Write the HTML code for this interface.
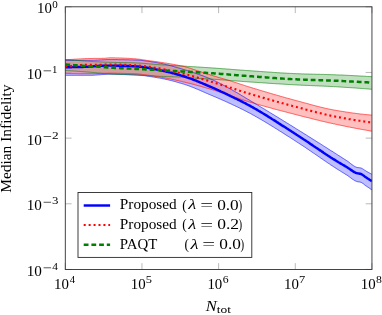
<!DOCTYPE html>
<html><head><meta charset="utf-8"><title>plot</title>
<style>
html,body{margin:0;padding:0;background:#fff;}
body{width:382px;height:315px;position:relative;overflow:hidden;font-family:"Liberation Serif",serif;}
</style></head><body>
<svg width="382" height="315" viewBox="0 0 382 315" style="position:absolute;left:0;top:0;will-change:transform">
<rect width="382" height="315" fill="#fff"/>
<path d="M65.30,269.45 v-6.3 M65.30,6.8 v6.3 M141.96,269.45 v-6.3 M141.96,6.8 v6.3 M218.62,269.45 v-6.3 M218.62,6.8 v6.3 M295.29,269.45 v-6.3 M295.29,6.8 v6.3 M371.95,269.45 v-6.3 M371.95,6.8 v6.3 M65.3,6.80 h6.3 M371.95,6.80 h-6.3 M65.3,72.46 h6.3 M371.95,72.46 h-6.3 M65.3,138.12 h6.3 M371.95,138.12 h-6.3 M65.3,203.79 h6.3 M371.95,203.79 h-6.3 M65.3,269.45 h6.3 M371.95,269.45 h-6.3" stroke="#8c8c8c" stroke-width="0.6" fill="none"/>
<clipPath id="c"><rect x="65.3" y="6.8" width="306.65" height="262.65"/></clipPath>
<g clip-path="url(#c)">
<polygon points="65.3,60.4 66.1,60.4 66.8,60.4 67.6,60.4 68.4,60.4 69.1,60.4 69.9,60.4 70.7,60.4 71.4,60.4 72.2,60.4 73.0,60.4 73.8,60.4 74.5,60.4 75.3,60.4 76.1,60.4 76.8,60.4 77.6,60.4 78.4,60.4 79.1,60.4 79.9,60.4 80.7,60.4 81.4,60.4 82.2,60.4 83.0,60.3 83.7,60.3 84.5,60.3 85.3,60.3 86.1,60.3 86.8,60.3 87.6,60.3 88.4,60.3 89.1,60.3 89.9,60.3 90.7,60.3 91.4,60.3 92.2,60.3 93.0,60.2 93.7,60.2 94.5,60.2 95.3,60.2 96.0,60.1 96.8,60.1 97.6,60.1 98.3,60.0 99.1,60.0 99.9,59.9 100.7,59.9 101.4,59.9 102.2,59.8 103.0,59.8 103.7,59.8 104.5,59.7 105.3,59.7 106.0,59.7 106.8,59.6 107.6,59.6 108.3,59.6 109.1,59.6 109.9,59.6 110.6,59.6 111.4,59.6 112.2,59.6 112.9,59.6 113.7,59.6 114.5,59.6 115.3,59.6 116.0,59.6 116.8,59.6 117.6,59.6 118.3,59.7 119.1,59.7 119.9,59.7 120.6,59.7 121.4,59.7 122.2,59.7 122.9,59.7 123.7,59.7 124.5,59.7 125.2,59.8 126.0,59.8 126.8,59.8 127.6,59.8 128.3,59.8 129.1,59.8 129.9,59.9 130.6,59.9 131.4,59.9 132.2,59.9 132.9,59.9 133.7,60.0 134.5,60.0 135.2,60.0 136.0,60.0 136.8,60.1 137.5,60.1 138.3,60.2 139.1,60.2 139.8,60.3 140.6,60.3 141.4,60.4 142.2,60.5 142.9,60.6 143.7,60.7 144.5,60.8 145.2,60.9 146.0,61.0 146.8,61.1 147.5,61.2 148.3,61.3 149.1,61.4 149.8,61.5 150.6,61.6 151.4,61.8 152.1,61.9 152.9,62.0 153.7,62.1 154.5,62.3 155.2,62.4 156.0,62.5 156.8,62.7 157.5,62.8 158.3,62.9 159.1,63.1 159.8,63.2 160.6,63.3 161.4,63.5 162.1,63.6 162.9,63.8 163.7,64.0 164.4,64.1 165.2,64.3 166.0,64.5 166.7,64.7 167.5,64.9 168.3,65.1 169.1,65.3 169.8,65.5 170.6,65.7 171.4,65.9 172.1,66.1 172.9,66.3 173.7,66.5 174.4,66.8 175.2,67.0 176.0,67.2 176.7,67.4 177.5,67.7 178.3,67.9 179.0,68.1 179.8,68.3 180.6,68.6 181.4,68.8 182.1,69.0 182.9,69.3 183.7,69.5 184.4,69.7 185.2,70.0 186.0,70.2 186.7,70.4 187.5,70.7 188.3,70.9 189.0,71.2 189.8,71.4 190.6,71.6 191.3,71.9 192.1,72.1 192.9,72.4 193.6,72.7 194.4,72.9 195.2,73.2 196.0,73.4 196.7,73.7 197.5,74.0 198.3,74.2 199.0,74.5 199.8,74.8 200.6,75.1 201.3,75.3 202.1,75.6 202.9,75.9 203.6,76.2 204.4,76.5 205.2,76.8 205.9,77.1 206.7,77.4 207.5,77.7 208.2,78.0 209.0,78.3 209.8,78.6 210.6,79.0 211.3,79.3 212.1,79.6 212.9,80.0 213.6,80.3 214.4,80.7 215.2,81.0 215.9,81.4 216.7,81.8 217.5,82.1 218.2,82.5 219.0,82.9 219.8,83.3 220.5,83.7 221.3,84.1 222.1,84.5 222.9,84.9 223.6,85.3 224.4,85.7 225.2,86.2 225.9,86.6 226.7,87.0 227.5,87.4 228.2,87.8 229.0,88.3 229.8,88.7 230.5,89.1 231.3,89.5 232.1,89.9 232.8,90.4 233.6,90.8 234.4,91.2 235.1,91.7 235.9,92.1 236.7,92.6 237.5,93.0 238.2,93.5 239.0,93.9 239.8,94.4 240.5,94.8 241.3,95.3 242.1,95.8 242.8,96.2 243.6,96.7 244.4,97.1 245.1,97.6 245.9,98.1 246.7,98.5 247.4,99.0 248.2,99.4 249.0,99.9 249.8,100.3 250.5,100.8 251.3,101.3 252.1,101.7 252.8,102.2 253.6,102.6 254.4,103.1 255.1,103.6 255.9,104.0 256.7,104.5 257.4,104.9 258.2,105.4 259.0,105.9 259.7,106.3 260.5,106.8 261.3,107.3 262.0,107.7 262.8,108.2 263.6,108.7 264.4,109.1 265.1,109.6 265.9,110.1 266.7,110.5 267.4,111.0 268.2,111.5 269.0,111.9 269.7,112.4 270.5,112.9 271.3,113.3 272.0,113.8 272.8,114.3 273.6,114.7 274.3,115.2 275.1,115.7 275.9,116.2 276.7,116.6 277.4,117.1 278.2,117.6 279.0,118.0 279.7,118.5 280.5,119.0 281.3,119.5 282.0,119.9 282.8,120.4 283.6,120.9 284.3,121.4 285.1,121.8 285.9,122.3 286.6,122.8 287.4,123.3 288.2,123.7 288.9,124.2 289.7,124.7 290.5,125.2 291.3,125.6 292.0,126.1 292.8,126.6 293.6,127.1 294.3,127.5 295.1,128.0 295.9,128.5 296.6,129.0 297.4,129.4 298.2,129.9 298.9,130.4 299.7,130.9 300.5,131.4 301.2,131.8 302.0,132.3 302.8,132.8 303.5,133.3 304.3,133.8 305.1,134.2 305.9,134.7 306.6,135.2 307.4,135.7 308.2,136.2 308.9,136.7 309.7,137.1 310.5,137.6 311.2,138.1 312.0,138.6 312.8,139.1 313.5,139.6 314.3,140.0 315.1,140.5 315.8,141.0 316.6,141.5 317.4,142.0 318.2,142.5 318.9,143.0 319.7,143.4 320.5,143.9 321.2,144.4 322.0,144.9 322.8,145.4 323.5,145.9 324.3,146.4 325.1,146.9 325.8,147.3 326.6,147.8 327.4,148.3 328.1,148.8 328.9,149.3 329.7,149.8 330.4,150.3 331.2,150.8 332.0,151.2 332.8,151.7 333.5,152.2 334.3,152.7 335.1,153.2 335.8,153.7 336.6,154.2 337.4,154.7 338.1,155.2 338.9,155.7 339.7,156.1 340.4,156.6 341.2,157.1 342.0,157.6 342.7,158.1 343.5,158.6 344.3,159.1 345.1,159.6 345.8,160.1 346.6,160.6 347.4,161.1 348.1,161.6 348.9,162.2 349.7,162.8 350.4,163.4 351.2,164.0 352.0,164.6 352.7,165.1 353.5,165.7 354.3,166.2 355.0,166.6 355.8,167.0 356.6,167.3 357.3,167.5 358.1,167.6 358.9,167.7 359.7,167.8 360.4,167.9 361.2,168.1 362.0,168.4 362.7,168.9 363.5,169.4 364.3,169.9 365.0,170.4 365.8,170.9 366.6,171.4 367.3,171.8 368.1,172.2 368.9,172.7 369.6,173.1 370.4,173.5 371.2,173.9 371.9,174.4 371.9,189.9 371.2,189.4 370.4,188.9 369.6,188.3 368.9,187.8 368.1,187.3 367.3,186.8 366.6,186.3 365.8,185.8 365.0,185.2 364.3,184.6 363.5,183.9 362.7,183.4 362.0,182.8 361.2,182.4 360.4,182.2 359.7,182.0 358.9,181.9 358.1,181.8 357.3,181.7 356.6,181.4 355.8,181.1 355.0,180.7 354.3,180.3 353.5,179.8 352.7,179.3 352.0,178.8 351.2,178.2 350.4,177.6 349.7,177.1 348.9,176.5 348.1,175.9 347.4,175.4 346.6,174.9 345.8,174.5 345.1,174.0 344.3,173.5 343.5,173.0 342.7,172.5 342.0,172.1 341.2,171.6 340.4,171.1 339.7,170.6 338.9,170.1 338.1,169.7 337.4,169.2 336.6,168.7 335.8,168.2 335.1,167.7 334.3,167.2 333.5,166.7 332.8,166.2 332.0,165.7 331.2,165.2 330.4,164.7 329.7,164.1 328.9,163.6 328.1,163.1 327.4,162.6 326.6,162.1 325.8,161.5 325.1,161.0 324.3,160.5 323.5,160.0 322.8,159.4 322.0,158.9 321.2,158.4 320.5,157.9 319.7,157.3 318.9,156.8 318.2,156.3 317.4,155.7 316.6,155.2 315.8,154.7 315.1,154.1 314.3,153.6 313.5,153.1 312.8,152.6 312.0,152.0 311.2,151.5 310.5,151.0 309.7,150.5 308.9,149.9 308.2,149.4 307.4,148.9 306.6,148.4 305.9,147.8 305.1,147.3 304.3,146.8 303.5,146.3 302.8,145.8 302.0,145.3 301.2,144.8 300.5,144.3 299.7,143.8 298.9,143.3 298.2,142.8 297.4,142.3 296.6,141.8 295.9,141.3 295.1,140.8 294.3,140.3 293.6,139.8 292.8,139.3 292.0,138.8 291.3,138.3 290.5,137.8 289.7,137.3 288.9,136.8 288.2,136.3 287.4,135.9 286.6,135.4 285.9,134.9 285.1,134.4 284.3,133.9 283.6,133.4 282.8,132.9 282.0,132.4 281.3,131.9 280.5,131.5 279.7,131.0 279.0,130.5 278.2,130.0 277.4,129.5 276.7,129.0 275.9,128.6 275.1,128.1 274.3,127.6 273.6,127.1 272.8,126.6 272.0,126.2 271.3,125.7 270.5,125.2 269.7,124.8 269.0,124.3 268.2,123.8 267.4,123.3 266.7,122.9 265.9,122.4 265.1,122.0 264.4,121.5 263.6,121.0 262.8,120.6 262.0,120.1 261.3,119.7 260.5,119.2 259.7,118.8 259.0,118.3 258.2,117.9 257.4,117.5 256.7,117.0 255.9,116.6 255.1,116.2 254.4,115.7 253.6,115.3 252.8,114.9 252.1,114.5 251.3,114.0 250.5,113.6 249.8,113.2 249.0,112.8 248.2,112.4 247.4,112.0 246.7,111.6 245.9,111.2 245.1,110.8 244.4,110.4 243.6,110.0 242.8,109.6 242.1,109.2 241.3,108.9 240.5,108.5 239.8,108.1 239.0,107.7 238.2,107.4 237.5,107.0 236.7,106.6 235.9,106.3 235.1,105.9 234.4,105.5 233.6,105.2 232.8,104.8 232.1,104.5 231.3,104.1 230.5,103.7 229.8,103.4 229.0,103.0 228.2,102.7 227.5,102.3 226.7,102.0 225.9,101.6 225.2,101.3 224.4,100.9 223.6,100.6 222.9,100.3 222.1,99.9 221.3,99.6 220.5,99.2 219.8,98.9 219.0,98.6 218.2,98.2 217.5,97.9 216.7,97.6 215.9,97.2 215.2,96.9 214.4,96.6 213.6,96.3 212.9,95.9 212.1,95.6 211.3,95.3 210.6,95.0 209.8,94.6 209.0,94.3 208.2,94.0 207.5,93.6 206.7,93.3 205.9,93.0 205.2,92.6 204.4,92.3 203.6,92.0 202.9,91.6 202.1,91.3 201.3,91.0 200.6,90.6 199.8,90.3 199.0,90.0 198.3,89.6 197.5,89.3 196.7,89.0 196.0,88.7 195.2,88.4 194.4,88.0 193.6,87.7 192.9,87.4 192.1,87.1 191.3,86.8 190.6,86.5 189.8,86.2 189.0,85.9 188.3,85.7 187.5,85.4 186.7,85.1 186.0,84.9 185.2,84.6 184.4,84.3 183.7,84.1 182.9,83.9 182.1,83.6 181.4,83.4 180.6,83.2 179.8,83.0 179.0,82.7 178.3,82.5 177.5,82.3 176.7,82.1 176.0,81.9 175.2,81.6 174.4,81.4 173.7,81.2 172.9,81.0 172.1,80.8 171.4,80.6 170.6,80.4 169.8,80.3 169.1,80.1 168.3,79.9 167.5,79.7 166.7,79.5 166.0,79.4 165.2,79.2 164.4,79.0 163.7,78.9 162.9,78.7 162.1,78.6 161.4,78.4 160.6,78.3 159.8,78.1 159.1,78.0 158.3,77.9 157.5,77.8 156.8,77.6 156.0,77.5 155.2,77.4 154.5,77.2 153.7,77.1 152.9,77.0 152.1,76.9 151.4,76.7 150.6,76.6 149.8,76.5 149.1,76.4 148.3,76.3 147.5,76.2 146.8,76.0 146.0,75.9 145.2,75.8 144.5,75.7 143.7,75.6 142.9,75.6 142.2,75.5 141.4,75.4 140.6,75.3 139.8,75.2 139.1,75.2 138.3,75.1 137.5,75.1 136.8,75.0 136.0,75.0 135.2,74.9 134.5,74.9 133.7,74.8 132.9,74.8 132.2,74.8 131.4,74.7 130.6,74.7 129.9,74.7 129.1,74.6 128.3,74.6 127.6,74.6 126.8,74.6 126.0,74.5 125.2,74.5 124.5,74.5 123.7,74.4 122.9,74.4 122.2,74.4 121.4,74.4 120.6,74.4 119.9,74.3 119.1,74.3 118.3,74.3 117.6,74.3 116.8,74.3 116.0,74.3 115.3,74.2 114.5,74.2 113.7,74.2 112.9,74.2 112.2,74.2 111.4,74.2 110.6,74.2 109.9,74.2 109.1,74.2 108.3,74.2 107.6,74.2 106.8,74.3 106.0,74.3 105.3,74.4 104.5,74.4 103.7,74.5 103.0,74.5 102.2,74.6 101.4,74.6 100.7,74.7 99.9,74.8 99.1,74.8 98.3,74.9 97.6,74.9 96.8,75.0 96.0,75.1 95.3,75.1 94.5,75.2 93.7,75.2 93.0,75.2 92.2,75.3 91.4,75.3 90.7,75.3 89.9,75.3 89.1,75.3 88.4,75.3 87.6,75.3 86.8,75.3 86.1,75.3 85.3,75.3 84.5,75.3 83.7,75.3 83.0,75.3 82.2,75.3 81.4,75.3 80.7,75.3 79.9,75.3 79.1,75.3 78.4,75.3 77.6,75.3 76.8,75.3 76.1,75.3 75.3,75.3 74.5,75.3 73.8,75.3 73.0,75.3 72.2,75.3 71.4,75.3 70.7,75.3 69.9,75.3 69.1,75.3 68.4,75.3 67.6,75.3 66.8,75.3 66.1,75.3 65.3,75.3" fill="#8080ff" fill-opacity="0.5" stroke="none"/>

<polygon points="65.3,59.5 66.1,59.6 66.8,59.6 67.6,59.7 68.4,59.7 69.1,59.8 69.9,59.9 70.7,59.9 71.4,60.0 72.2,60.1 73.0,60.1 73.8,60.2 74.5,60.2 75.3,60.3 76.1,60.4 76.8,60.4 77.6,60.5 78.4,60.5 79.1,60.6 79.9,60.6 80.7,60.7 81.4,60.8 82.2,60.8 83.0,60.9 83.7,61.0 84.5,61.0 85.3,61.1 86.1,61.1 86.8,61.2 87.6,61.2 88.4,61.3 89.1,61.3 89.9,61.4 90.7,61.4 91.4,61.5 92.2,61.5 93.0,61.6 93.7,61.6 94.5,61.6 95.3,61.7 96.0,61.7 96.8,61.8 97.6,61.8 98.3,61.8 99.1,61.9 99.9,61.9 100.7,61.9 101.4,62.0 102.2,62.0 103.0,62.0 103.7,62.1 104.5,62.1 105.3,62.1 106.0,62.2 106.8,62.2 107.6,62.2 108.3,62.2 109.1,62.3 109.9,62.3 110.6,62.3 111.4,62.3 112.2,62.4 112.9,62.4 113.7,62.4 114.5,62.4 115.3,62.4 116.0,62.4 116.8,62.5 117.6,62.5 118.3,62.5 119.1,62.5 119.9,62.5 120.6,62.5 121.4,62.5 122.2,62.6 122.9,62.6 123.7,62.6 124.5,62.6 125.2,62.6 126.0,62.6 126.8,62.6 127.6,62.7 128.3,62.7 129.1,62.7 129.9,62.7 130.6,62.7 131.4,62.7 132.2,62.8 132.9,62.8 133.7,62.8 134.5,62.8 135.2,62.9 136.0,62.9 136.8,62.9 137.5,63.0 138.3,63.0 139.1,63.0 139.8,63.1 140.6,63.1 141.4,63.2 142.2,63.3 142.9,63.3 143.7,63.4 144.5,63.4 145.2,63.5 146.0,63.6 146.8,63.6 147.5,63.7 148.3,63.8 149.1,63.8 149.8,63.9 150.6,64.0 151.4,64.0 152.1,64.1 152.9,64.2 153.7,64.2 154.5,64.3 155.2,64.4 156.0,64.4 156.8,64.5 157.5,64.5 158.3,64.6 159.1,64.7 159.8,64.7 160.6,64.8 161.4,64.8 162.1,64.9 162.9,64.9 163.7,65.0 164.4,65.0 165.2,65.0 166.0,65.1 166.7,65.1 167.5,65.2 168.3,65.2 169.1,65.3 169.8,65.3 170.6,65.4 171.4,65.4 172.1,65.5 172.9,65.5 173.7,65.5 174.4,65.6 175.2,65.6 176.0,65.7 176.7,65.7 177.5,65.8 178.3,65.8 179.0,65.9 179.8,65.9 180.6,66.0 181.4,66.0 182.1,66.0 182.9,66.1 183.7,66.1 184.4,66.2 185.2,66.2 186.0,66.3 186.7,66.3 187.5,66.4 188.3,66.4 189.0,66.5 189.8,66.5 190.6,66.6 191.3,66.6 192.1,66.7 192.9,66.7 193.6,66.7 194.4,66.8 195.2,66.8 196.0,66.9 196.7,66.9 197.5,67.0 198.3,67.0 199.0,67.1 199.8,67.1 200.6,67.2 201.3,67.2 202.1,67.3 202.9,67.3 203.6,67.4 204.4,67.4 205.2,67.5 205.9,67.5 206.7,67.6 207.5,67.6 208.2,67.7 209.0,67.7 209.8,67.8 210.6,67.8 211.3,67.9 212.1,67.9 212.9,68.0 213.6,68.0 214.4,68.1 215.2,68.1 215.9,68.2 216.7,68.3 217.5,68.3 218.2,68.4 219.0,68.4 219.8,68.5 220.5,68.5 221.3,68.6 222.1,68.7 222.9,68.7 223.6,68.8 224.4,68.8 225.2,68.9 225.9,68.9 226.7,69.0 227.5,69.1 228.2,69.1 229.0,69.2 229.8,69.2 230.5,69.3 231.3,69.4 232.1,69.4 232.8,69.5 233.6,69.5 234.4,69.6 235.1,69.7 235.9,69.7 236.7,69.8 237.5,69.8 238.2,69.9 239.0,69.9 239.8,70.0 240.5,70.1 241.3,70.1 242.1,70.2 242.8,70.2 243.6,70.3 244.4,70.3 245.1,70.4 245.9,70.5 246.7,70.5 247.4,70.6 248.2,70.6 249.0,70.7 249.8,70.7 250.5,70.8 251.3,70.8 252.1,70.9 252.8,70.9 253.6,71.0 254.4,71.0 255.1,71.1 255.9,71.2 256.7,71.2 257.4,71.3 258.2,71.3 259.0,71.4 259.7,71.4 260.5,71.5 261.3,71.5 262.0,71.6 262.8,71.7 263.6,71.7 264.4,71.8 265.1,71.8 265.9,71.9 266.7,71.9 267.4,72.0 268.2,72.0 269.0,72.1 269.7,72.1 270.5,72.2 271.3,72.2 272.0,72.3 272.8,72.4 273.6,72.4 274.3,72.5 275.1,72.5 275.9,72.6 276.7,72.6 277.4,72.7 278.2,72.7 279.0,72.8 279.7,72.8 280.5,72.9 281.3,72.9 282.0,72.9 282.8,73.0 283.6,73.0 284.3,73.1 285.1,73.1 285.9,73.2 286.6,73.2 287.4,73.3 288.2,73.3 288.9,73.3 289.7,73.4 290.5,73.4 291.3,73.4 292.0,73.5 292.8,73.5 293.6,73.6 294.3,73.6 295.1,73.6 295.9,73.7 296.6,73.7 297.4,73.7 298.2,73.7 298.9,73.8 299.7,73.8 300.5,73.8 301.2,73.9 302.0,73.9 302.8,73.9 303.5,73.9 304.3,74.0 305.1,74.0 305.9,74.0 306.6,74.0 307.4,74.0 308.2,74.1 308.9,74.1 309.7,74.1 310.5,74.1 311.2,74.1 312.0,74.2 312.8,74.2 313.5,74.2 314.3,74.2 315.1,74.2 315.8,74.3 316.6,74.3 317.4,74.3 318.2,74.3 318.9,74.3 319.7,74.3 320.5,74.4 321.2,74.4 322.0,74.4 322.8,74.4 323.5,74.4 324.3,74.5 325.1,74.5 325.8,74.5 326.6,74.5 327.4,74.6 328.1,74.6 328.9,74.6 329.7,74.6 330.4,74.6 331.2,74.7 332.0,74.7 332.8,74.7 333.5,74.7 334.3,74.8 335.1,74.8 335.8,74.8 336.6,74.9 337.4,74.9 338.1,74.9 338.9,75.0 339.7,75.0 340.4,75.0 341.2,75.0 342.0,75.1 342.7,75.1 343.5,75.1 344.3,75.2 345.1,75.2 345.8,75.3 346.6,75.3 347.4,75.3 348.1,75.4 348.9,75.4 349.7,75.4 350.4,75.5 351.2,75.5 352.0,75.6 352.7,75.6 353.5,75.6 354.3,75.7 355.0,75.7 355.8,75.8 356.6,75.8 357.3,75.8 358.1,75.9 358.9,75.9 359.7,76.0 360.4,76.0 361.2,76.1 362.0,76.1 362.7,76.1 363.5,76.2 364.3,76.2 365.0,76.3 365.8,76.3 366.6,76.4 367.3,76.4 368.1,76.5 368.9,76.5 369.6,76.6 370.4,76.6 371.2,76.6 371.9,76.7 371.9,89.3 371.2,89.2 370.4,89.2 369.6,89.1 368.9,89.0 368.1,89.0 367.3,88.9 366.6,88.9 365.8,88.8 365.0,88.7 364.3,88.7 363.5,88.6 362.7,88.6 362.0,88.5 361.2,88.4 360.4,88.4 359.7,88.3 358.9,88.3 358.1,88.2 357.3,88.2 356.6,88.1 355.8,88.0 355.0,88.0 354.3,87.9 353.5,87.9 352.7,87.8 352.0,87.8 351.2,87.7 350.4,87.7 349.7,87.6 348.9,87.6 348.1,87.5 347.4,87.5 346.6,87.4 345.8,87.4 345.1,87.3 344.3,87.3 343.5,87.2 342.7,87.2 342.0,87.1 341.2,87.1 340.4,87.0 339.7,87.0 338.9,86.9 338.1,86.9 337.4,86.8 336.6,86.8 335.8,86.7 335.1,86.7 334.3,86.7 333.5,86.6 332.8,86.6 332.0,86.5 331.2,86.5 330.4,86.5 329.7,86.4 328.9,86.4 328.1,86.3 327.4,86.3 326.6,86.3 325.8,86.2 325.1,86.2 324.3,86.2 323.5,86.1 322.8,86.1 322.0,86.1 321.2,86.0 320.5,86.0 319.7,86.0 318.9,85.9 318.2,85.9 317.4,85.9 316.6,85.8 315.8,85.8 315.1,85.8 314.3,85.7 313.5,85.7 312.8,85.7 312.0,85.6 311.2,85.6 310.5,85.6 309.7,85.5 308.9,85.5 308.2,85.5 307.4,85.4 306.6,85.4 305.9,85.4 305.1,85.3 304.3,85.3 303.5,85.3 302.8,85.2 302.0,85.2 301.2,85.2 300.5,85.1 299.7,85.1 298.9,85.1 298.2,85.0 297.4,85.0 296.6,84.9 295.9,84.9 295.1,84.8 294.3,84.8 293.6,84.8 292.8,84.7 292.0,84.7 291.3,84.6 290.5,84.6 289.7,84.5 288.9,84.5 288.2,84.5 287.4,84.4 286.6,84.4 285.9,84.3 285.1,84.3 284.3,84.2 283.6,84.2 282.8,84.1 282.0,84.1 281.3,84.0 280.5,84.0 279.7,83.9 279.0,83.9 278.2,83.8 277.4,83.8 276.7,83.8 275.9,83.7 275.1,83.7 274.3,83.6 273.6,83.6 272.8,83.5 272.0,83.5 271.3,83.4 270.5,83.4 269.7,83.3 269.0,83.3 268.2,83.2 267.4,83.2 266.7,83.1 265.9,83.0 265.1,83.0 264.4,82.9 263.6,82.9 262.8,82.8 262.0,82.8 261.3,82.7 260.5,82.7 259.7,82.6 259.0,82.6 258.2,82.5 257.4,82.5 256.7,82.4 255.9,82.4 255.1,82.3 254.4,82.3 253.6,82.2 252.8,82.2 252.1,82.1 251.3,82.1 250.5,82.0 249.8,82.0 249.0,81.9 248.2,81.8 247.4,81.8 246.7,81.7 245.9,81.7 245.1,81.6 244.4,81.6 243.6,81.5 242.8,81.5 242.1,81.4 241.3,81.3 240.5,81.3 239.8,81.2 239.0,81.2 238.2,81.1 237.5,81.1 236.7,81.0 235.9,80.9 235.1,80.9 234.4,80.8 233.6,80.8 232.8,80.7 232.1,80.6 231.3,80.6 230.5,80.5 229.8,80.5 229.0,80.4 228.2,80.3 227.5,80.3 226.7,80.2 225.9,80.2 225.2,80.1 224.4,80.0 223.6,80.0 222.9,79.9 222.1,79.9 221.3,79.8 220.5,79.8 219.8,79.7 219.0,79.6 218.2,79.6 217.5,79.5 216.7,79.5 215.9,79.4 215.2,79.4 214.4,79.3 213.6,79.3 212.9,79.2 212.1,79.2 211.3,79.1 210.6,79.1 209.8,79.0 209.0,79.0 208.2,78.9 207.5,78.9 206.7,78.9 205.9,78.8 205.2,78.8 204.4,78.7 203.6,78.7 202.9,78.6 202.1,78.6 201.3,78.6 200.6,78.5 199.8,78.5 199.0,78.4 198.3,78.4 197.5,78.3 196.7,78.3 196.0,78.2 195.2,78.2 194.4,78.1 193.6,78.0 192.9,78.0 192.1,77.9 191.3,77.8 190.6,77.8 189.8,77.7 189.0,77.6 188.3,77.6 187.5,77.5 186.7,77.5 186.0,77.4 185.2,77.3 184.4,77.3 183.7,77.2 182.9,77.2 182.1,77.2 181.4,77.1 180.6,77.1 179.8,77.0 179.0,77.0 178.3,77.0 177.5,76.9 176.7,76.9 176.0,76.9 175.2,76.8 174.4,76.8 173.7,76.8 172.9,76.8 172.1,76.7 171.4,76.7 170.6,76.7 169.8,76.7 169.1,76.6 168.3,76.6 167.5,76.6 166.7,76.6 166.0,76.5 165.2,76.5 164.4,76.5 163.7,76.4 162.9,76.4 162.1,76.4 161.4,76.4 160.6,76.3 159.8,76.3 159.1,76.3 158.3,76.2 157.5,76.2 156.8,76.1 156.0,76.1 155.2,76.1 154.5,76.0 153.7,76.0 152.9,75.9 152.1,75.9 151.4,75.9 150.6,75.8 149.8,75.8 149.1,75.7 148.3,75.7 147.5,75.7 146.8,75.6 146.0,75.6 145.2,75.5 144.5,75.5 143.7,75.4 142.9,75.4 142.2,75.4 141.4,75.3 140.6,75.3 139.8,75.2 139.1,75.2 138.3,75.2 137.5,75.1 136.8,75.1 136.0,75.0 135.2,75.0 134.5,75.0 133.7,74.9 132.9,74.9 132.2,74.9 131.4,74.8 130.6,74.8 129.9,74.8 129.1,74.8 128.3,74.7 127.6,74.7 126.8,74.7 126.0,74.7 125.2,74.6 124.5,74.6 123.7,74.6 122.9,74.5 122.2,74.5 121.4,74.5 120.6,74.5 119.9,74.4 119.1,74.4 118.3,74.4 117.6,74.4 116.8,74.3 116.0,74.3 115.3,74.3 114.5,74.2 113.7,74.2 112.9,74.2 112.2,74.1 111.4,74.1 110.6,74.0 109.9,74.0 109.1,73.9 108.3,73.9 107.6,73.8 106.8,73.8 106.0,73.7 105.3,73.7 104.5,73.6 103.7,73.5 103.0,73.4 102.2,73.4 101.4,73.3 100.7,73.2 99.9,73.1 99.1,73.1 98.3,73.0 97.6,72.9 96.8,72.8 96.0,72.8 95.3,72.7 94.5,72.6 93.7,72.5 93.0,72.5 92.2,72.4 91.4,72.3 90.7,72.3 89.9,72.2 89.1,72.1 88.4,72.1 87.6,72.0 86.8,72.0 86.1,71.9 85.3,71.8 84.5,71.8 83.7,71.7 83.0,71.7 82.2,71.6 81.4,71.6 80.7,71.5 79.9,71.4 79.1,71.4 78.4,71.3 77.6,71.3 76.8,71.2 76.1,71.2 75.3,71.1 74.5,71.1 73.8,71.0 73.0,71.0 72.2,70.9 71.4,70.9 70.7,70.8 69.9,70.8 69.1,70.7 68.4,70.7 67.6,70.6 66.8,70.6 66.1,70.5 65.3,70.5" fill="#80c080" fill-opacity="0.5" stroke="none"/>

<polygon points="65.3,59.9 66.1,59.8 66.8,59.8 67.6,59.7 68.4,59.6 69.1,59.6 69.9,59.5 70.7,59.5 71.4,59.4 72.2,59.4 73.0,59.3 73.8,59.3 74.5,59.2 75.3,59.2 76.1,59.1 76.8,59.1 77.6,59.0 78.4,59.0 79.1,58.9 79.9,58.9 80.7,58.9 81.4,58.8 82.2,58.8 83.0,58.8 83.7,58.7 84.5,58.7 85.3,58.6 86.1,58.6 86.8,58.6 87.6,58.6 88.4,58.5 89.1,58.5 89.9,58.5 90.7,58.5 91.4,58.5 92.2,58.5 93.0,58.5 93.7,58.4 94.5,58.4 95.3,58.4 96.0,58.4 96.8,58.4 97.6,58.4 98.3,58.4 99.1,58.4 99.9,58.4 100.7,58.4 101.4,58.4 102.2,58.3 103.0,58.3 103.7,58.3 104.5,58.3 105.3,58.2 106.0,58.1 106.8,58.1 107.6,58.0 108.3,57.9 109.1,57.8 109.9,57.8 110.6,57.8 111.4,57.8 112.2,57.8 112.9,57.8 113.7,57.8 114.5,57.8 115.3,57.9 116.0,57.9 116.8,57.9 117.6,57.9 118.3,57.9 119.1,58.0 119.9,58.0 120.6,58.0 121.4,58.0 122.2,58.1 122.9,58.1 123.7,58.1 124.5,58.2 125.2,58.2 126.0,58.2 126.8,58.3 127.6,58.3 128.3,58.3 129.1,58.4 129.9,58.4 130.6,58.5 131.4,58.5 132.2,58.6 132.9,58.7 133.7,58.7 134.5,58.8 135.2,58.8 136.0,58.9 136.8,59.0 137.5,59.1 138.3,59.1 139.1,59.2 139.8,59.3 140.6,59.4 141.4,59.6 142.2,59.7 142.9,59.8 143.7,59.9 144.5,60.0 145.2,60.1 146.0,60.3 146.8,60.4 147.5,60.5 148.3,60.6 149.1,60.7 149.8,60.8 150.6,60.9 151.4,61.0 152.1,61.1 152.9,61.2 153.7,61.3 154.5,61.4 155.2,61.5 156.0,61.6 156.8,61.7 157.5,61.8 158.3,61.9 159.1,62.1 159.8,62.2 160.6,62.3 161.4,62.4 162.1,62.5 162.9,62.6 163.7,62.8 164.4,62.9 165.2,63.0 166.0,63.1 166.7,63.2 167.5,63.4 168.3,63.5 169.1,63.6 169.8,63.7 170.6,63.9 171.4,64.0 172.1,64.1 172.9,64.3 173.7,64.4 174.4,64.5 175.2,64.7 176.0,64.8 176.7,65.0 177.5,65.1 178.3,65.3 179.0,65.4 179.8,65.6 180.6,65.7 181.4,65.9 182.1,66.1 182.9,66.2 183.7,66.4 184.4,66.6 185.2,66.8 186.0,67.0 186.7,67.2 187.5,67.5 188.3,67.7 189.0,67.9 189.8,68.2 190.6,68.4 191.3,68.7 192.1,69.0 192.9,69.2 193.6,69.5 194.4,69.7 195.2,70.0 196.0,70.3 196.7,70.5 197.5,70.8 198.3,71.0 199.0,71.2 199.8,71.5 200.6,71.7 201.3,72.0 202.1,72.2 202.9,72.5 203.6,72.7 204.4,73.0 205.2,73.2 205.9,73.5 206.7,73.7 207.5,74.0 208.2,74.2 209.0,74.5 209.8,74.7 210.6,75.0 211.3,75.2 212.1,75.4 212.9,75.7 213.6,75.9 214.4,76.1 215.2,76.4 215.9,76.6 216.7,76.8 217.5,77.1 218.2,77.3 219.0,77.5 219.8,77.7 220.5,78.0 221.3,78.2 222.1,78.4 222.9,78.6 223.6,78.9 224.4,79.1 225.2,79.3 225.9,79.6 226.7,79.8 227.5,80.0 228.2,80.3 229.0,80.5 229.8,80.7 230.5,81.0 231.3,81.2 232.1,81.5 232.8,81.7 233.6,81.9 234.4,82.2 235.1,82.4 235.9,82.7 236.7,82.9 237.5,83.2 238.2,83.4 239.0,83.7 239.8,83.9 240.5,84.2 241.3,84.4 242.1,84.7 242.8,84.9 243.6,85.2 244.4,85.4 245.1,85.7 245.9,85.9 246.7,86.2 247.4,86.4 248.2,86.7 249.0,86.9 249.8,87.1 250.5,87.4 251.3,87.6 252.1,87.8 252.8,88.1 253.6,88.3 254.4,88.5 255.1,88.8 255.9,89.0 256.7,89.2 257.4,89.5 258.2,89.7 259.0,89.9 259.7,90.2 260.5,90.4 261.3,90.6 262.0,90.9 262.8,91.1 263.6,91.3 264.4,91.5 265.1,91.8 265.9,92.0 266.7,92.2 267.4,92.5 268.2,92.7 269.0,92.9 269.7,93.1 270.5,93.4 271.3,93.6 272.0,93.8 272.8,94.0 273.6,94.3 274.3,94.5 275.1,94.7 275.9,94.9 276.7,95.2 277.4,95.4 278.2,95.6 279.0,95.8 279.7,96.0 280.5,96.3 281.3,96.5 282.0,96.7 282.8,96.9 283.6,97.1 284.3,97.3 285.1,97.6 285.9,97.8 286.6,98.0 287.4,98.2 288.2,98.4 288.9,98.6 289.7,98.8 290.5,99.0 291.3,99.3 292.0,99.5 292.8,99.7 293.6,99.9 294.3,100.1 295.1,100.3 295.9,100.5 296.6,100.7 297.4,100.9 298.2,101.1 298.9,101.3 299.7,101.5 300.5,101.7 301.2,101.9 302.0,102.2 302.8,102.4 303.5,102.6 304.3,102.8 305.1,103.0 305.9,103.2 306.6,103.4 307.4,103.6 308.2,103.8 308.9,104.0 309.7,104.3 310.5,104.5 311.2,104.7 312.0,104.9 312.8,105.1 313.5,105.3 314.3,105.5 315.1,105.7 315.8,105.9 316.6,106.1 317.4,106.3 318.2,106.5 318.9,106.7 319.7,106.9 320.5,107.1 321.2,107.3 322.0,107.5 322.8,107.6 323.5,107.8 324.3,108.0 325.1,108.2 325.8,108.4 326.6,108.5 327.4,108.7 328.1,108.9 328.9,109.0 329.7,109.2 330.4,109.3 331.2,109.5 332.0,109.7 332.8,109.8 333.5,109.9 334.3,110.1 335.1,110.2 335.8,110.3 336.6,110.5 337.4,110.6 338.1,110.7 338.9,110.9 339.7,111.0 340.4,111.1 341.2,111.2 342.0,111.4 342.7,111.5 343.5,111.6 344.3,111.7 345.1,111.9 345.8,112.0 346.6,112.1 347.4,112.2 348.1,112.3 348.9,112.4 349.7,112.6 350.4,112.7 351.2,112.8 352.0,112.9 352.7,113.0 353.5,113.1 354.3,113.2 355.0,113.3 355.8,113.4 356.6,113.5 357.3,113.6 358.1,113.7 358.9,113.8 359.7,113.9 360.4,114.0 361.2,114.1 362.0,114.2 362.7,114.2 363.5,114.3 364.3,114.4 365.0,114.5 365.8,114.6 366.6,114.6 367.3,114.7 368.1,114.8 368.9,114.8 369.6,114.9 370.4,115.0 371.2,115.0 371.9,115.1 371.9,131.2 371.2,131.1 370.4,130.9 369.6,130.8 368.9,130.7 368.1,130.5 367.3,130.4 366.6,130.3 365.8,130.1 365.0,130.0 364.3,129.9 363.5,129.7 362.7,129.6 362.0,129.4 361.2,129.3 360.4,129.2 359.7,129.0 358.9,128.9 358.1,128.7 357.3,128.6 356.6,128.5 355.8,128.3 355.0,128.2 354.3,128.0 353.5,127.9 352.7,127.7 352.0,127.6 351.2,127.4 350.4,127.3 349.7,127.1 348.9,127.0 348.1,126.8 347.4,126.7 346.6,126.5 345.8,126.4 345.1,126.2 344.3,126.0 343.5,125.9 342.7,125.7 342.0,125.6 341.2,125.4 340.4,125.2 339.7,125.1 338.9,124.9 338.1,124.8 337.4,124.6 336.6,124.4 335.8,124.3 335.1,124.1 334.3,123.9 333.5,123.8 332.8,123.6 332.0,123.4 331.2,123.3 330.4,123.1 329.7,122.9 328.9,122.8 328.1,122.6 327.4,122.4 326.6,122.2 325.8,122.1 325.1,121.9 324.3,121.7 323.5,121.5 322.8,121.3 322.0,121.2 321.2,121.0 320.5,120.8 319.7,120.6 318.9,120.4 318.2,120.2 317.4,120.0 316.6,119.9 315.8,119.7 315.1,119.5 314.3,119.3 313.5,119.1 312.8,118.9 312.0,118.7 311.2,118.5 310.5,118.3 309.7,118.1 308.9,117.9 308.2,117.7 307.4,117.6 306.6,117.4 305.9,117.2 305.1,117.0 304.3,116.8 303.5,116.6 302.8,116.4 302.0,116.2 301.2,116.0 300.5,115.8 299.7,115.6 298.9,115.4 298.2,115.2 297.4,115.0 296.6,114.8 295.9,114.6 295.1,114.4 294.3,114.2 293.6,114.0 292.8,113.8 292.0,113.6 291.3,113.4 290.5,113.2 289.7,113.0 288.9,112.8 288.2,112.6 287.4,112.4 286.6,112.2 285.9,112.0 285.1,111.8 284.3,111.6 283.6,111.4 282.8,111.2 282.0,111.0 281.3,110.8 280.5,110.6 279.7,110.4 279.0,110.2 278.2,110.0 277.4,109.8 276.7,109.6 275.9,109.4 275.1,109.2 274.3,109.0 273.6,108.8 272.8,108.6 272.0,108.4 271.3,108.1 270.5,107.9 269.7,107.7 269.0,107.5 268.2,107.3 267.4,107.1 266.7,106.9 265.9,106.7 265.1,106.4 264.4,106.2 263.6,106.0 262.8,105.8 262.0,105.6 261.3,105.4 260.5,105.2 259.7,104.9 259.0,104.7 258.2,104.5 257.4,104.3 256.7,104.1 255.9,103.8 255.1,103.6 254.4,103.4 253.6,103.2 252.8,102.9 252.1,102.7 251.3,102.5 250.5,102.3 249.8,102.0 249.0,101.8 248.2,101.6 247.4,101.3 246.7,101.1 245.9,100.9 245.1,100.6 244.4,100.4 243.6,100.1 242.8,99.9 242.1,99.6 241.3,99.4 240.5,99.1 239.8,98.9 239.0,98.6 238.2,98.3 237.5,98.1 236.7,97.8 235.9,97.6 235.1,97.3 234.4,97.0 233.6,96.8 232.8,96.5 232.1,96.2 231.3,96.0 230.5,95.7 229.8,95.4 229.0,95.2 228.2,94.9 227.5,94.6 226.7,94.4 225.9,94.1 225.2,93.9 224.4,93.6 223.6,93.3 222.9,93.1 222.1,92.8 221.3,92.6 220.5,92.3 219.8,92.1 219.0,91.8 218.2,91.5 217.5,91.3 216.7,91.1 215.9,90.8 215.2,90.6 214.4,90.3 213.6,90.1 212.9,89.9 212.1,89.6 211.3,89.4 210.6,89.2 209.8,88.9 209.0,88.7 208.2,88.5 207.5,88.3 206.7,88.1 205.9,87.8 205.2,87.6 204.4,87.4 203.6,87.2 202.9,87.0 202.1,86.7 201.3,86.5 200.6,86.3 199.8,86.1 199.0,85.9 198.3,85.7 197.5,85.5 196.7,85.3 196.0,85.0 195.2,84.8 194.4,84.6 193.6,84.4 192.9,84.2 192.1,84.0 191.3,83.8 190.6,83.6 189.8,83.4 189.0,83.3 188.3,83.1 187.5,82.9 186.7,82.7 186.0,82.5 185.2,82.3 184.4,82.1 183.7,82.0 182.9,81.8 182.1,81.6 181.4,81.4 180.6,81.2 179.8,81.1 179.0,80.9 178.3,80.7 177.5,80.5 176.7,80.4 176.0,80.2 175.2,80.0 174.4,79.9 173.7,79.7 172.9,79.5 172.1,79.4 171.4,79.2 170.6,79.0 169.8,78.9 169.1,78.7 168.3,78.6 167.5,78.4 166.7,78.3 166.0,78.1 165.2,78.0 164.4,77.8 163.7,77.7 162.9,77.6 162.1,77.4 161.4,77.3 160.6,77.2 159.8,77.0 159.1,76.9 158.3,76.8 157.5,76.7 156.8,76.5 156.0,76.4 155.2,76.3 154.5,76.2 153.7,76.0 152.9,75.9 152.1,75.8 151.4,75.7 150.6,75.5 149.8,75.4 149.1,75.3 148.3,75.2 147.5,75.1 146.8,75.0 146.0,74.9 145.2,74.8 144.5,74.6 143.7,74.6 142.9,74.5 142.2,74.4 141.4,74.3 140.6,74.2 139.8,74.1 139.1,74.1 138.3,74.0 137.5,73.9 136.8,73.9 136.0,73.8 135.2,73.8 134.5,73.8 133.7,73.7 132.9,73.7 132.2,73.7 131.4,73.7 130.6,73.6 129.9,73.6 129.1,73.6 128.3,73.5 127.6,73.5 126.8,73.5 126.0,73.5 125.2,73.4 124.5,73.4 123.7,73.4 122.9,73.4 122.2,73.4 121.4,73.3 120.6,73.3 119.9,73.3 119.1,73.3 118.3,73.3 117.6,73.3 116.8,73.3 116.0,73.2 115.3,73.2 114.5,73.2 113.7,73.2 112.9,73.2 112.2,73.2 111.4,73.2 110.6,73.2 109.9,73.2 109.1,73.2 108.3,73.2 107.6,73.2 106.8,73.2 106.0,73.3 105.3,73.3 104.5,73.3 103.7,73.3 103.0,73.3 102.2,73.4 101.4,73.4 100.7,73.4 99.9,73.5 99.1,73.5 98.3,73.5 97.6,73.5 96.8,73.6 96.0,73.6 95.3,73.6 94.5,73.6 93.7,73.7 93.0,73.7 92.2,73.7 91.4,73.7 90.7,73.7 89.9,73.7 89.1,73.7 88.4,73.7 87.6,73.7 86.8,73.7 86.1,73.7 85.3,73.7 84.5,73.7 83.7,73.7 83.0,73.7 82.2,73.7 81.4,73.7 80.7,73.7 79.9,73.7 79.1,73.7 78.4,73.7 77.6,73.7 76.8,73.6 76.1,73.6 75.3,73.6 74.5,73.6 73.8,73.6 73.0,73.6 72.2,73.6 71.4,73.6 70.7,73.5 69.9,73.5 69.1,73.5 68.4,73.5 67.6,73.5 66.8,73.4 66.1,73.4 65.3,73.4" fill="#ff8080" fill-opacity="0.5" stroke="none"/>

<polyline points="65.3,60.4 66.1,60.4 66.8,60.4 67.6,60.4 68.4,60.4 69.1,60.4 69.9,60.4 70.7,60.4 71.4,60.4 72.2,60.4 73.0,60.4 73.8,60.4 74.5,60.4 75.3,60.4 76.1,60.4 76.8,60.4 77.6,60.4 78.4,60.4 79.1,60.4 79.9,60.4 80.7,60.4 81.4,60.4 82.2,60.4 83.0,60.3 83.7,60.3 84.5,60.3 85.3,60.3 86.1,60.3 86.8,60.3 87.6,60.3 88.4,60.3 89.1,60.3 89.9,60.3 90.7,60.3 91.4,60.3 92.2,60.3 93.0,60.2 93.7,60.2 94.5,60.2 95.3,60.2 96.0,60.1 96.8,60.1 97.6,60.1 98.3,60.0 99.1,60.0 99.9,59.9 100.7,59.9 101.4,59.9 102.2,59.8 103.0,59.8 103.7,59.8 104.5,59.7 105.3,59.7 106.0,59.7 106.8,59.6 107.6,59.6 108.3,59.6 109.1,59.6 109.9,59.6 110.6,59.6 111.4,59.6 112.2,59.6 112.9,59.6 113.7,59.6 114.5,59.6 115.3,59.6 116.0,59.6 116.8,59.6 117.6,59.6 118.3,59.7 119.1,59.7 119.9,59.7 120.6,59.7 121.4,59.7 122.2,59.7 122.9,59.7 123.7,59.7 124.5,59.7 125.2,59.8 126.0,59.8 126.8,59.8 127.6,59.8 128.3,59.8 129.1,59.8 129.9,59.9 130.6,59.9 131.4,59.9 132.2,59.9 132.9,59.9 133.7,60.0 134.5,60.0 135.2,60.0 136.0,60.0 136.8,60.1 137.5,60.1 138.3,60.2 139.1,60.2 139.8,60.3 140.6,60.3 141.4,60.4 142.2,60.5 142.9,60.6 143.7,60.7 144.5,60.8 145.2,60.9 146.0,61.0 146.8,61.1 147.5,61.2 148.3,61.3 149.1,61.4 149.8,61.5 150.6,61.6 151.4,61.8 152.1,61.9 152.9,62.0 153.7,62.1 154.5,62.3 155.2,62.4 156.0,62.5 156.8,62.7 157.5,62.8 158.3,62.9 159.1,63.1 159.8,63.2 160.6,63.3 161.4,63.5 162.1,63.6 162.9,63.8 163.7,64.0 164.4,64.1 165.2,64.3 166.0,64.5 166.7,64.7 167.5,64.9 168.3,65.1 169.1,65.3 169.8,65.5 170.6,65.7 171.4,65.9 172.1,66.1 172.9,66.3 173.7,66.5 174.4,66.8 175.2,67.0 176.0,67.2 176.7,67.4 177.5,67.7 178.3,67.9 179.0,68.1 179.8,68.3 180.6,68.6 181.4,68.8 182.1,69.0 182.9,69.3 183.7,69.5 184.4,69.7 185.2,70.0 186.0,70.2 186.7,70.4 187.5,70.7 188.3,70.9 189.0,71.2 189.8,71.4 190.6,71.6 191.3,71.9 192.1,72.1 192.9,72.4 193.6,72.7 194.4,72.9 195.2,73.2 196.0,73.4 196.7,73.7 197.5,74.0 198.3,74.2 199.0,74.5 199.8,74.8 200.6,75.1 201.3,75.3 202.1,75.6 202.9,75.9 203.6,76.2 204.4,76.5 205.2,76.8 205.9,77.1 206.7,77.4 207.5,77.7 208.2,78.0 209.0,78.3 209.8,78.6 210.6,79.0 211.3,79.3 212.1,79.6 212.9,80.0 213.6,80.3 214.4,80.7 215.2,81.0 215.9,81.4 216.7,81.8 217.5,82.1 218.2,82.5 219.0,82.9 219.8,83.3 220.5,83.7 221.3,84.1 222.1,84.5 222.9,84.9 223.6,85.3 224.4,85.7 225.2,86.2 225.9,86.6 226.7,87.0 227.5,87.4 228.2,87.8 229.0,88.3 229.8,88.7 230.5,89.1 231.3,89.5 232.1,89.9 232.8,90.4 233.6,90.8 234.4,91.2 235.1,91.7 235.9,92.1 236.7,92.6 237.5,93.0 238.2,93.5 239.0,93.9 239.8,94.4 240.5,94.8 241.3,95.3 242.1,95.8 242.8,96.2 243.6,96.7 244.4,97.1 245.1,97.6 245.9,98.1 246.7,98.5 247.4,99.0 248.2,99.4 249.0,99.9 249.8,100.3 250.5,100.8 251.3,101.3 252.1,101.7 252.8,102.2 253.6,102.6 254.4,103.1 255.1,103.6 255.9,104.0 256.7,104.5 257.4,104.9 258.2,105.4 259.0,105.9 259.7,106.3 260.5,106.8 261.3,107.3 262.0,107.7 262.8,108.2 263.6,108.7 264.4,109.1 265.1,109.6 265.9,110.1 266.7,110.5 267.4,111.0 268.2,111.5 269.0,111.9 269.7,112.4 270.5,112.9 271.3,113.3 272.0,113.8 272.8,114.3 273.6,114.7 274.3,115.2 275.1,115.7 275.9,116.2 276.7,116.6 277.4,117.1 278.2,117.6 279.0,118.0 279.7,118.5 280.5,119.0 281.3,119.5 282.0,119.9 282.8,120.4 283.6,120.9 284.3,121.4 285.1,121.8 285.9,122.3 286.6,122.8 287.4,123.3 288.2,123.7 288.9,124.2 289.7,124.7 290.5,125.2 291.3,125.6 292.0,126.1 292.8,126.6 293.6,127.1 294.3,127.5 295.1,128.0 295.9,128.5 296.6,129.0 297.4,129.4 298.2,129.9 298.9,130.4 299.7,130.9 300.5,131.4 301.2,131.8 302.0,132.3 302.8,132.8 303.5,133.3 304.3,133.8 305.1,134.2 305.9,134.7 306.6,135.2 307.4,135.7 308.2,136.2 308.9,136.7 309.7,137.1 310.5,137.6 311.2,138.1 312.0,138.6 312.8,139.1 313.5,139.6 314.3,140.0 315.1,140.5 315.8,141.0 316.6,141.5 317.4,142.0 318.2,142.5 318.9,143.0 319.7,143.4 320.5,143.9 321.2,144.4 322.0,144.9 322.8,145.4 323.5,145.9 324.3,146.4 325.1,146.9 325.8,147.3 326.6,147.8 327.4,148.3 328.1,148.8 328.9,149.3 329.7,149.8 330.4,150.3 331.2,150.8 332.0,151.2 332.8,151.7 333.5,152.2 334.3,152.7 335.1,153.2 335.8,153.7 336.6,154.2 337.4,154.7 338.1,155.2 338.9,155.7 339.7,156.1 340.4,156.6 341.2,157.1 342.0,157.6 342.7,158.1 343.5,158.6 344.3,159.1 345.1,159.6 345.8,160.1 346.6,160.6 347.4,161.1 348.1,161.6 348.9,162.2 349.7,162.8 350.4,163.4 351.2,164.0 352.0,164.6 352.7,165.1 353.5,165.7 354.3,166.2 355.0,166.6 355.8,167.0 356.6,167.3 357.3,167.5 358.1,167.6 358.9,167.7 359.7,167.8 360.4,167.9 361.2,168.1 362.0,168.4 362.7,168.9 363.5,169.4 364.3,169.9 365.0,170.4 365.8,170.9 366.6,171.4 367.3,171.8 368.1,172.2 368.9,172.7 369.6,173.1 370.4,173.5 371.2,173.9 371.9,174.4" fill="none" stroke="#0000ff" stroke-width="0.6"/>
<polyline points="65.3,75.3 66.1,75.3 66.8,75.3 67.6,75.3 68.4,75.3 69.1,75.3 69.9,75.3 70.7,75.3 71.4,75.3 72.2,75.3 73.0,75.3 73.8,75.3 74.5,75.3 75.3,75.3 76.1,75.3 76.8,75.3 77.6,75.3 78.4,75.3 79.1,75.3 79.9,75.3 80.7,75.3 81.4,75.3 82.2,75.3 83.0,75.3 83.7,75.3 84.5,75.3 85.3,75.3 86.1,75.3 86.8,75.3 87.6,75.3 88.4,75.3 89.1,75.3 89.9,75.3 90.7,75.3 91.4,75.3 92.2,75.3 93.0,75.2 93.7,75.2 94.5,75.2 95.3,75.1 96.0,75.1 96.8,75.0 97.6,74.9 98.3,74.9 99.1,74.8 99.9,74.8 100.7,74.7 101.4,74.6 102.2,74.6 103.0,74.5 103.7,74.5 104.5,74.4 105.3,74.4 106.0,74.3 106.8,74.3 107.6,74.2 108.3,74.2 109.1,74.2 109.9,74.2 110.6,74.2 111.4,74.2 112.2,74.2 112.9,74.2 113.7,74.2 114.5,74.2 115.3,74.2 116.0,74.3 116.8,74.3 117.6,74.3 118.3,74.3 119.1,74.3 119.9,74.3 120.6,74.4 121.4,74.4 122.2,74.4 122.9,74.4 123.7,74.4 124.5,74.5 125.2,74.5 126.0,74.5 126.8,74.6 127.6,74.6 128.3,74.6 129.1,74.6 129.9,74.7 130.6,74.7 131.4,74.7 132.2,74.8 132.9,74.8 133.7,74.8 134.5,74.9 135.2,74.9 136.0,75.0 136.8,75.0 137.5,75.1 138.3,75.1 139.1,75.2 139.8,75.2 140.6,75.3 141.4,75.4 142.2,75.5 142.9,75.6 143.7,75.6 144.5,75.7 145.2,75.8 146.0,75.9 146.8,76.0 147.5,76.2 148.3,76.3 149.1,76.4 149.8,76.5 150.6,76.6 151.4,76.7 152.1,76.9 152.9,77.0 153.7,77.1 154.5,77.2 155.2,77.4 156.0,77.5 156.8,77.6 157.5,77.8 158.3,77.9 159.1,78.0 159.8,78.1 160.6,78.3 161.4,78.4 162.1,78.6 162.9,78.7 163.7,78.9 164.4,79.0 165.2,79.2 166.0,79.4 166.7,79.5 167.5,79.7 168.3,79.9 169.1,80.1 169.8,80.3 170.6,80.4 171.4,80.6 172.1,80.8 172.9,81.0 173.7,81.2 174.4,81.4 175.2,81.6 176.0,81.9 176.7,82.1 177.5,82.3 178.3,82.5 179.0,82.7 179.8,83.0 180.6,83.2 181.4,83.4 182.1,83.6 182.9,83.9 183.7,84.1 184.4,84.3 185.2,84.6 186.0,84.9 186.7,85.1 187.5,85.4 188.3,85.7 189.0,85.9 189.8,86.2 190.6,86.5 191.3,86.8 192.1,87.1 192.9,87.4 193.6,87.7 194.4,88.0 195.2,88.4 196.0,88.7 196.7,89.0 197.5,89.3 198.3,89.6 199.0,90.0 199.8,90.3 200.6,90.6 201.3,91.0 202.1,91.3 202.9,91.6 203.6,92.0 204.4,92.3 205.2,92.6 205.9,93.0 206.7,93.3 207.5,93.6 208.2,94.0 209.0,94.3 209.8,94.6 210.6,95.0 211.3,95.3 212.1,95.6 212.9,95.9 213.6,96.3 214.4,96.6 215.2,96.9 215.9,97.2 216.7,97.6 217.5,97.9 218.2,98.2 219.0,98.6 219.8,98.9 220.5,99.2 221.3,99.6 222.1,99.9 222.9,100.3 223.6,100.6 224.4,100.9 225.2,101.3 225.9,101.6 226.7,102.0 227.5,102.3 228.2,102.7 229.0,103.0 229.8,103.4 230.5,103.7 231.3,104.1 232.1,104.5 232.8,104.8 233.6,105.2 234.4,105.5 235.1,105.9 235.9,106.3 236.7,106.6 237.5,107.0 238.2,107.4 239.0,107.7 239.8,108.1 240.5,108.5 241.3,108.9 242.1,109.2 242.8,109.6 243.6,110.0 244.4,110.4 245.1,110.8 245.9,111.2 246.7,111.6 247.4,112.0 248.2,112.4 249.0,112.8 249.8,113.2 250.5,113.6 251.3,114.0 252.1,114.5 252.8,114.9 253.6,115.3 254.4,115.7 255.1,116.2 255.9,116.6 256.7,117.0 257.4,117.5 258.2,117.9 259.0,118.3 259.7,118.8 260.5,119.2 261.3,119.7 262.0,120.1 262.8,120.6 263.6,121.0 264.4,121.5 265.1,122.0 265.9,122.4 266.7,122.9 267.4,123.3 268.2,123.8 269.0,124.3 269.7,124.8 270.5,125.2 271.3,125.7 272.0,126.2 272.8,126.6 273.6,127.1 274.3,127.6 275.1,128.1 275.9,128.6 276.7,129.0 277.4,129.5 278.2,130.0 279.0,130.5 279.7,131.0 280.5,131.5 281.3,131.9 282.0,132.4 282.8,132.9 283.6,133.4 284.3,133.9 285.1,134.4 285.9,134.9 286.6,135.4 287.4,135.9 288.2,136.3 288.9,136.8 289.7,137.3 290.5,137.8 291.3,138.3 292.0,138.8 292.8,139.3 293.6,139.8 294.3,140.3 295.1,140.8 295.9,141.3 296.6,141.8 297.4,142.3 298.2,142.8 298.9,143.3 299.7,143.8 300.5,144.3 301.2,144.8 302.0,145.3 302.8,145.8 303.5,146.3 304.3,146.8 305.1,147.3 305.9,147.8 306.6,148.4 307.4,148.9 308.2,149.4 308.9,149.9 309.7,150.5 310.5,151.0 311.2,151.5 312.0,152.0 312.8,152.6 313.5,153.1 314.3,153.6 315.1,154.1 315.8,154.7 316.6,155.2 317.4,155.7 318.2,156.3 318.9,156.8 319.7,157.3 320.5,157.9 321.2,158.4 322.0,158.9 322.8,159.4 323.5,160.0 324.3,160.5 325.1,161.0 325.8,161.5 326.6,162.1 327.4,162.6 328.1,163.1 328.9,163.6 329.7,164.1 330.4,164.7 331.2,165.2 332.0,165.7 332.8,166.2 333.5,166.7 334.3,167.2 335.1,167.7 335.8,168.2 336.6,168.7 337.4,169.2 338.1,169.7 338.9,170.1 339.7,170.6 340.4,171.1 341.2,171.6 342.0,172.1 342.7,172.5 343.5,173.0 344.3,173.5 345.1,174.0 345.8,174.5 346.6,174.9 347.4,175.4 348.1,175.9 348.9,176.5 349.7,177.1 350.4,177.6 351.2,178.2 352.0,178.8 352.7,179.3 353.5,179.8 354.3,180.3 355.0,180.7 355.8,181.1 356.6,181.4 357.3,181.7 358.1,181.8 358.9,181.9 359.7,182.0 360.4,182.2 361.2,182.4 362.0,182.8 362.7,183.4 363.5,183.9 364.3,184.6 365.0,185.2 365.8,185.8 366.6,186.3 367.3,186.8 368.1,187.3 368.9,187.8 369.6,188.3 370.4,188.9 371.2,189.4 371.9,189.9" fill="none" stroke="#0000ff" stroke-width="0.6"/>

<polyline points="65.3,59.5 66.1,59.6 66.8,59.6 67.6,59.7 68.4,59.7 69.1,59.8 69.9,59.9 70.7,59.9 71.4,60.0 72.2,60.1 73.0,60.1 73.8,60.2 74.5,60.2 75.3,60.3 76.1,60.4 76.8,60.4 77.6,60.5 78.4,60.5 79.1,60.6 79.9,60.6 80.7,60.7 81.4,60.8 82.2,60.8 83.0,60.9 83.7,61.0 84.5,61.0 85.3,61.1 86.1,61.1 86.8,61.2 87.6,61.2 88.4,61.3 89.1,61.3 89.9,61.4 90.7,61.4 91.4,61.5 92.2,61.5 93.0,61.6 93.7,61.6 94.5,61.6 95.3,61.7 96.0,61.7 96.8,61.8 97.6,61.8 98.3,61.8 99.1,61.9 99.9,61.9 100.7,61.9 101.4,62.0 102.2,62.0 103.0,62.0 103.7,62.1 104.5,62.1 105.3,62.1 106.0,62.2 106.8,62.2 107.6,62.2 108.3,62.2 109.1,62.3 109.9,62.3 110.6,62.3 111.4,62.3 112.2,62.4 112.9,62.4 113.7,62.4 114.5,62.4 115.3,62.4 116.0,62.4 116.8,62.5 117.6,62.5 118.3,62.5 119.1,62.5 119.9,62.5 120.6,62.5 121.4,62.5 122.2,62.6 122.9,62.6 123.7,62.6 124.5,62.6 125.2,62.6 126.0,62.6 126.8,62.6 127.6,62.7 128.3,62.7 129.1,62.7 129.9,62.7 130.6,62.7 131.4,62.7 132.2,62.8 132.9,62.8 133.7,62.8 134.5,62.8 135.2,62.9 136.0,62.9 136.8,62.9 137.5,63.0 138.3,63.0 139.1,63.0 139.8,63.1 140.6,63.1 141.4,63.2 142.2,63.3 142.9,63.3 143.7,63.4 144.5,63.4 145.2,63.5 146.0,63.6 146.8,63.6 147.5,63.7 148.3,63.8 149.1,63.8 149.8,63.9 150.6,64.0 151.4,64.0 152.1,64.1 152.9,64.2 153.7,64.2 154.5,64.3 155.2,64.4 156.0,64.4 156.8,64.5 157.5,64.5 158.3,64.6 159.1,64.7 159.8,64.7 160.6,64.8 161.4,64.8 162.1,64.9 162.9,64.9 163.7,65.0 164.4,65.0 165.2,65.0 166.0,65.1 166.7,65.1 167.5,65.2 168.3,65.2 169.1,65.3 169.8,65.3 170.6,65.4 171.4,65.4 172.1,65.5 172.9,65.5 173.7,65.5 174.4,65.6 175.2,65.6 176.0,65.7 176.7,65.7 177.5,65.8 178.3,65.8 179.0,65.9 179.8,65.9 180.6,66.0 181.4,66.0 182.1,66.0 182.9,66.1 183.7,66.1 184.4,66.2 185.2,66.2 186.0,66.3 186.7,66.3 187.5,66.4 188.3,66.4 189.0,66.5 189.8,66.5 190.6,66.6 191.3,66.6 192.1,66.7 192.9,66.7 193.6,66.7 194.4,66.8 195.2,66.8 196.0,66.9 196.7,66.9 197.5,67.0 198.3,67.0 199.0,67.1 199.8,67.1 200.6,67.2 201.3,67.2 202.1,67.3 202.9,67.3 203.6,67.4 204.4,67.4 205.2,67.5 205.9,67.5 206.7,67.6 207.5,67.6 208.2,67.7 209.0,67.7 209.8,67.8 210.6,67.8 211.3,67.9 212.1,67.9 212.9,68.0 213.6,68.0 214.4,68.1 215.2,68.1 215.9,68.2 216.7,68.3 217.5,68.3 218.2,68.4 219.0,68.4 219.8,68.5 220.5,68.5 221.3,68.6 222.1,68.7 222.9,68.7 223.6,68.8 224.4,68.8 225.2,68.9 225.9,68.9 226.7,69.0 227.5,69.1 228.2,69.1 229.0,69.2 229.8,69.2 230.5,69.3 231.3,69.4 232.1,69.4 232.8,69.5 233.6,69.5 234.4,69.6 235.1,69.7 235.9,69.7 236.7,69.8 237.5,69.8 238.2,69.9 239.0,69.9 239.8,70.0 240.5,70.1 241.3,70.1 242.1,70.2 242.8,70.2 243.6,70.3 244.4,70.3 245.1,70.4 245.9,70.5 246.7,70.5 247.4,70.6 248.2,70.6 249.0,70.7 249.8,70.7 250.5,70.8 251.3,70.8 252.1,70.9 252.8,70.9 253.6,71.0 254.4,71.0 255.1,71.1 255.9,71.2 256.7,71.2 257.4,71.3 258.2,71.3 259.0,71.4 259.7,71.4 260.5,71.5 261.3,71.5 262.0,71.6 262.8,71.7 263.6,71.7 264.4,71.8 265.1,71.8 265.9,71.9 266.7,71.9 267.4,72.0 268.2,72.0 269.0,72.1 269.7,72.1 270.5,72.2 271.3,72.2 272.0,72.3 272.8,72.4 273.6,72.4 274.3,72.5 275.1,72.5 275.9,72.6 276.7,72.6 277.4,72.7 278.2,72.7 279.0,72.8 279.7,72.8 280.5,72.9 281.3,72.9 282.0,72.9 282.8,73.0 283.6,73.0 284.3,73.1 285.1,73.1 285.9,73.2 286.6,73.2 287.4,73.3 288.2,73.3 288.9,73.3 289.7,73.4 290.5,73.4 291.3,73.4 292.0,73.5 292.8,73.5 293.6,73.6 294.3,73.6 295.1,73.6 295.9,73.7 296.6,73.7 297.4,73.7 298.2,73.7 298.9,73.8 299.7,73.8 300.5,73.8 301.2,73.9 302.0,73.9 302.8,73.9 303.5,73.9 304.3,74.0 305.1,74.0 305.9,74.0 306.6,74.0 307.4,74.0 308.2,74.1 308.9,74.1 309.7,74.1 310.5,74.1 311.2,74.1 312.0,74.2 312.8,74.2 313.5,74.2 314.3,74.2 315.1,74.2 315.8,74.3 316.6,74.3 317.4,74.3 318.2,74.3 318.9,74.3 319.7,74.3 320.5,74.4 321.2,74.4 322.0,74.4 322.8,74.4 323.5,74.4 324.3,74.5 325.1,74.5 325.8,74.5 326.6,74.5 327.4,74.6 328.1,74.6 328.9,74.6 329.7,74.6 330.4,74.6 331.2,74.7 332.0,74.7 332.8,74.7 333.5,74.7 334.3,74.8 335.1,74.8 335.8,74.8 336.6,74.9 337.4,74.9 338.1,74.9 338.9,75.0 339.7,75.0 340.4,75.0 341.2,75.0 342.0,75.1 342.7,75.1 343.5,75.1 344.3,75.2 345.1,75.2 345.8,75.3 346.6,75.3 347.4,75.3 348.1,75.4 348.9,75.4 349.7,75.4 350.4,75.5 351.2,75.5 352.0,75.6 352.7,75.6 353.5,75.6 354.3,75.7 355.0,75.7 355.8,75.8 356.6,75.8 357.3,75.8 358.1,75.9 358.9,75.9 359.7,76.0 360.4,76.0 361.2,76.1 362.0,76.1 362.7,76.1 363.5,76.2 364.3,76.2 365.0,76.3 365.8,76.3 366.6,76.4 367.3,76.4 368.1,76.5 368.9,76.5 369.6,76.6 370.4,76.6 371.2,76.6 371.9,76.7" fill="none" stroke="#008000" stroke-width="0.6"/>
<polyline points="65.3,70.5 66.1,70.5 66.8,70.6 67.6,70.6 68.4,70.7 69.1,70.7 69.9,70.8 70.7,70.8 71.4,70.9 72.2,70.9 73.0,71.0 73.8,71.0 74.5,71.1 75.3,71.1 76.1,71.2 76.8,71.2 77.6,71.3 78.4,71.3 79.1,71.4 79.9,71.4 80.7,71.5 81.4,71.6 82.2,71.6 83.0,71.7 83.7,71.7 84.5,71.8 85.3,71.8 86.1,71.9 86.8,72.0 87.6,72.0 88.4,72.1 89.1,72.1 89.9,72.2 90.7,72.3 91.4,72.3 92.2,72.4 93.0,72.5 93.7,72.5 94.5,72.6 95.3,72.7 96.0,72.8 96.8,72.8 97.6,72.9 98.3,73.0 99.1,73.1 99.9,73.1 100.7,73.2 101.4,73.3 102.2,73.4 103.0,73.4 103.7,73.5 104.5,73.6 105.3,73.7 106.0,73.7 106.8,73.8 107.6,73.8 108.3,73.9 109.1,73.9 109.9,74.0 110.6,74.0 111.4,74.1 112.2,74.1 112.9,74.2 113.7,74.2 114.5,74.2 115.3,74.3 116.0,74.3 116.8,74.3 117.6,74.4 118.3,74.4 119.1,74.4 119.9,74.4 120.6,74.5 121.4,74.5 122.2,74.5 122.9,74.5 123.7,74.6 124.5,74.6 125.2,74.6 126.0,74.7 126.8,74.7 127.6,74.7 128.3,74.7 129.1,74.8 129.9,74.8 130.6,74.8 131.4,74.8 132.2,74.9 132.9,74.9 133.7,74.9 134.5,75.0 135.2,75.0 136.0,75.0 136.8,75.1 137.5,75.1 138.3,75.2 139.1,75.2 139.8,75.2 140.6,75.3 141.4,75.3 142.2,75.4 142.9,75.4 143.7,75.4 144.5,75.5 145.2,75.5 146.0,75.6 146.8,75.6 147.5,75.7 148.3,75.7 149.1,75.7 149.8,75.8 150.6,75.8 151.4,75.9 152.1,75.9 152.9,75.9 153.7,76.0 154.5,76.0 155.2,76.1 156.0,76.1 156.8,76.1 157.5,76.2 158.3,76.2 159.1,76.3 159.8,76.3 160.6,76.3 161.4,76.4 162.1,76.4 162.9,76.4 163.7,76.4 164.4,76.5 165.2,76.5 166.0,76.5 166.7,76.6 167.5,76.6 168.3,76.6 169.1,76.6 169.8,76.7 170.6,76.7 171.4,76.7 172.1,76.7 172.9,76.8 173.7,76.8 174.4,76.8 175.2,76.8 176.0,76.9 176.7,76.9 177.5,76.9 178.3,77.0 179.0,77.0 179.8,77.0 180.6,77.1 181.4,77.1 182.1,77.2 182.9,77.2 183.7,77.2 184.4,77.3 185.2,77.3 186.0,77.4 186.7,77.5 187.5,77.5 188.3,77.6 189.0,77.6 189.8,77.7 190.6,77.8 191.3,77.8 192.1,77.9 192.9,78.0 193.6,78.0 194.4,78.1 195.2,78.2 196.0,78.2 196.7,78.3 197.5,78.3 198.3,78.4 199.0,78.4 199.8,78.5 200.6,78.5 201.3,78.6 202.1,78.6 202.9,78.6 203.6,78.7 204.4,78.7 205.2,78.8 205.9,78.8 206.7,78.9 207.5,78.9 208.2,78.9 209.0,79.0 209.8,79.0 210.6,79.1 211.3,79.1 212.1,79.2 212.9,79.2 213.6,79.3 214.4,79.3 215.2,79.4 215.9,79.4 216.7,79.5 217.5,79.5 218.2,79.6 219.0,79.6 219.8,79.7 220.5,79.8 221.3,79.8 222.1,79.9 222.9,79.9 223.6,80.0 224.4,80.0 225.2,80.1 225.9,80.2 226.7,80.2 227.5,80.3 228.2,80.3 229.0,80.4 229.8,80.5 230.5,80.5 231.3,80.6 232.1,80.6 232.8,80.7 233.6,80.8 234.4,80.8 235.1,80.9 235.9,80.9 236.7,81.0 237.5,81.1 238.2,81.1 239.0,81.2 239.8,81.2 240.5,81.3 241.3,81.3 242.1,81.4 242.8,81.5 243.6,81.5 244.4,81.6 245.1,81.6 245.9,81.7 246.7,81.7 247.4,81.8 248.2,81.8 249.0,81.9 249.8,82.0 250.5,82.0 251.3,82.1 252.1,82.1 252.8,82.2 253.6,82.2 254.4,82.3 255.1,82.3 255.9,82.4 256.7,82.4 257.4,82.5 258.2,82.5 259.0,82.6 259.7,82.6 260.5,82.7 261.3,82.7 262.0,82.8 262.8,82.8 263.6,82.9 264.4,82.9 265.1,83.0 265.9,83.0 266.7,83.1 267.4,83.2 268.2,83.2 269.0,83.3 269.7,83.3 270.5,83.4 271.3,83.4 272.0,83.5 272.8,83.5 273.6,83.6 274.3,83.6 275.1,83.7 275.9,83.7 276.7,83.8 277.4,83.8 278.2,83.8 279.0,83.9 279.7,83.9 280.5,84.0 281.3,84.0 282.0,84.1 282.8,84.1 283.6,84.2 284.3,84.2 285.1,84.3 285.9,84.3 286.6,84.4 287.4,84.4 288.2,84.5 288.9,84.5 289.7,84.5 290.5,84.6 291.3,84.6 292.0,84.7 292.8,84.7 293.6,84.8 294.3,84.8 295.1,84.8 295.9,84.9 296.6,84.9 297.4,85.0 298.2,85.0 298.9,85.1 299.7,85.1 300.5,85.1 301.2,85.2 302.0,85.2 302.8,85.2 303.5,85.3 304.3,85.3 305.1,85.3 305.9,85.4 306.6,85.4 307.4,85.4 308.2,85.5 308.9,85.5 309.7,85.5 310.5,85.6 311.2,85.6 312.0,85.6 312.8,85.7 313.5,85.7 314.3,85.7 315.1,85.8 315.8,85.8 316.6,85.8 317.4,85.9 318.2,85.9 318.9,85.9 319.7,86.0 320.5,86.0 321.2,86.0 322.0,86.1 322.8,86.1 323.5,86.1 324.3,86.2 325.1,86.2 325.8,86.2 326.6,86.3 327.4,86.3 328.1,86.3 328.9,86.4 329.7,86.4 330.4,86.5 331.2,86.5 332.0,86.5 332.8,86.6 333.5,86.6 334.3,86.7 335.1,86.7 335.8,86.7 336.6,86.8 337.4,86.8 338.1,86.9 338.9,86.9 339.7,87.0 340.4,87.0 341.2,87.1 342.0,87.1 342.7,87.2 343.5,87.2 344.3,87.3 345.1,87.3 345.8,87.4 346.6,87.4 347.4,87.5 348.1,87.5 348.9,87.6 349.7,87.6 350.4,87.7 351.2,87.7 352.0,87.8 352.7,87.8 353.5,87.9 354.3,87.9 355.0,88.0 355.8,88.0 356.6,88.1 357.3,88.2 358.1,88.2 358.9,88.3 359.7,88.3 360.4,88.4 361.2,88.4 362.0,88.5 362.7,88.6 363.5,88.6 364.3,88.7 365.0,88.7 365.8,88.8 366.6,88.9 367.3,88.9 368.1,89.0 368.9,89.0 369.6,89.1 370.4,89.2 371.2,89.2 371.9,89.3" fill="none" stroke="#008000" stroke-width="0.6"/>

<polyline points="65.3,59.9 66.1,59.8 66.8,59.8 67.6,59.7 68.4,59.6 69.1,59.6 69.9,59.5 70.7,59.5 71.4,59.4 72.2,59.4 73.0,59.3 73.8,59.3 74.5,59.2 75.3,59.2 76.1,59.1 76.8,59.1 77.6,59.0 78.4,59.0 79.1,58.9 79.9,58.9 80.7,58.9 81.4,58.8 82.2,58.8 83.0,58.8 83.7,58.7 84.5,58.7 85.3,58.6 86.1,58.6 86.8,58.6 87.6,58.6 88.4,58.5 89.1,58.5 89.9,58.5 90.7,58.5 91.4,58.5 92.2,58.5 93.0,58.5 93.7,58.4 94.5,58.4 95.3,58.4 96.0,58.4 96.8,58.4 97.6,58.4 98.3,58.4 99.1,58.4 99.9,58.4 100.7,58.4 101.4,58.4 102.2,58.3 103.0,58.3 103.7,58.3 104.5,58.3 105.3,58.2 106.0,58.1 106.8,58.1 107.6,58.0 108.3,57.9 109.1,57.8 109.9,57.8 110.6,57.8 111.4,57.8 112.2,57.8 112.9,57.8 113.7,57.8 114.5,57.8 115.3,57.9 116.0,57.9 116.8,57.9 117.6,57.9 118.3,57.9 119.1,58.0 119.9,58.0 120.6,58.0 121.4,58.0 122.2,58.1 122.9,58.1 123.7,58.1 124.5,58.2 125.2,58.2 126.0,58.2 126.8,58.3 127.6,58.3 128.3,58.3 129.1,58.4 129.9,58.4 130.6,58.5 131.4,58.5 132.2,58.6 132.9,58.7 133.7,58.7 134.5,58.8 135.2,58.8 136.0,58.9 136.8,59.0 137.5,59.1 138.3,59.1 139.1,59.2 139.8,59.3 140.6,59.4 141.4,59.6 142.2,59.7 142.9,59.8 143.7,59.9 144.5,60.0 145.2,60.1 146.0,60.3 146.8,60.4 147.5,60.5 148.3,60.6 149.1,60.7 149.8,60.8 150.6,60.9 151.4,61.0 152.1,61.1 152.9,61.2 153.7,61.3 154.5,61.4 155.2,61.5 156.0,61.6 156.8,61.7 157.5,61.8 158.3,61.9 159.1,62.1 159.8,62.2 160.6,62.3 161.4,62.4 162.1,62.5 162.9,62.6 163.7,62.8 164.4,62.9 165.2,63.0 166.0,63.1 166.7,63.2 167.5,63.4 168.3,63.5 169.1,63.6 169.8,63.7 170.6,63.9 171.4,64.0 172.1,64.1 172.9,64.3 173.7,64.4 174.4,64.5 175.2,64.7 176.0,64.8 176.7,65.0 177.5,65.1 178.3,65.3 179.0,65.4 179.8,65.6 180.6,65.7 181.4,65.9 182.1,66.1 182.9,66.2 183.7,66.4 184.4,66.6 185.2,66.8 186.0,67.0 186.7,67.2 187.5,67.5 188.3,67.7 189.0,67.9 189.8,68.2 190.6,68.4 191.3,68.7 192.1,69.0 192.9,69.2 193.6,69.5 194.4,69.7 195.2,70.0 196.0,70.3 196.7,70.5 197.5,70.8 198.3,71.0 199.0,71.2 199.8,71.5 200.6,71.7 201.3,72.0 202.1,72.2 202.9,72.5 203.6,72.7 204.4,73.0 205.2,73.2 205.9,73.5 206.7,73.7 207.5,74.0 208.2,74.2 209.0,74.5 209.8,74.7 210.6,75.0 211.3,75.2 212.1,75.4 212.9,75.7 213.6,75.9 214.4,76.1 215.2,76.4 215.9,76.6 216.7,76.8 217.5,77.1 218.2,77.3 219.0,77.5 219.8,77.7 220.5,78.0 221.3,78.2 222.1,78.4 222.9,78.6 223.6,78.9 224.4,79.1 225.2,79.3 225.9,79.6 226.7,79.8 227.5,80.0 228.2,80.3 229.0,80.5 229.8,80.7 230.5,81.0 231.3,81.2 232.1,81.5 232.8,81.7 233.6,81.9 234.4,82.2 235.1,82.4 235.9,82.7 236.7,82.9 237.5,83.2 238.2,83.4 239.0,83.7 239.8,83.9 240.5,84.2 241.3,84.4 242.1,84.7 242.8,84.9 243.6,85.2 244.4,85.4 245.1,85.7 245.9,85.9 246.7,86.2 247.4,86.4 248.2,86.7 249.0,86.9 249.8,87.1 250.5,87.4 251.3,87.6 252.1,87.8 252.8,88.1 253.6,88.3 254.4,88.5 255.1,88.8 255.9,89.0 256.7,89.2 257.4,89.5 258.2,89.7 259.0,89.9 259.7,90.2 260.5,90.4 261.3,90.6 262.0,90.9 262.8,91.1 263.6,91.3 264.4,91.5 265.1,91.8 265.9,92.0 266.7,92.2 267.4,92.5 268.2,92.7 269.0,92.9 269.7,93.1 270.5,93.4 271.3,93.6 272.0,93.8 272.8,94.0 273.6,94.3 274.3,94.5 275.1,94.7 275.9,94.9 276.7,95.2 277.4,95.4 278.2,95.6 279.0,95.8 279.7,96.0 280.5,96.3 281.3,96.5 282.0,96.7 282.8,96.9 283.6,97.1 284.3,97.3 285.1,97.6 285.9,97.8 286.6,98.0 287.4,98.2 288.2,98.4 288.9,98.6 289.7,98.8 290.5,99.0 291.3,99.3 292.0,99.5 292.8,99.7 293.6,99.9 294.3,100.1 295.1,100.3 295.9,100.5 296.6,100.7 297.4,100.9 298.2,101.1 298.9,101.3 299.7,101.5 300.5,101.7 301.2,101.9 302.0,102.2 302.8,102.4 303.5,102.6 304.3,102.8 305.1,103.0 305.9,103.2 306.6,103.4 307.4,103.6 308.2,103.8 308.9,104.0 309.7,104.3 310.5,104.5 311.2,104.7 312.0,104.9 312.8,105.1 313.5,105.3 314.3,105.5 315.1,105.7 315.8,105.9 316.6,106.1 317.4,106.3 318.2,106.5 318.9,106.7 319.7,106.9 320.5,107.1 321.2,107.3 322.0,107.5 322.8,107.6 323.5,107.8 324.3,108.0 325.1,108.2 325.8,108.4 326.6,108.5 327.4,108.7 328.1,108.9 328.9,109.0 329.7,109.2 330.4,109.3 331.2,109.5 332.0,109.7 332.8,109.8 333.5,109.9 334.3,110.1 335.1,110.2 335.8,110.3 336.6,110.5 337.4,110.6 338.1,110.7 338.9,110.9 339.7,111.0 340.4,111.1 341.2,111.2 342.0,111.4 342.7,111.5 343.5,111.6 344.3,111.7 345.1,111.9 345.8,112.0 346.6,112.1 347.4,112.2 348.1,112.3 348.9,112.4 349.7,112.6 350.4,112.7 351.2,112.8 352.0,112.9 352.7,113.0 353.5,113.1 354.3,113.2 355.0,113.3 355.8,113.4 356.6,113.5 357.3,113.6 358.1,113.7 358.9,113.8 359.7,113.9 360.4,114.0 361.2,114.1 362.0,114.2 362.7,114.2 363.5,114.3 364.3,114.4 365.0,114.5 365.8,114.6 366.6,114.6 367.3,114.7 368.1,114.8 368.9,114.8 369.6,114.9 370.4,115.0 371.2,115.0 371.9,115.1" fill="none" stroke="#ff0000" stroke-width="0.6"/>
<polyline points="65.3,73.4 66.1,73.4 66.8,73.4 67.6,73.5 68.4,73.5 69.1,73.5 69.9,73.5 70.7,73.5 71.4,73.6 72.2,73.6 73.0,73.6 73.8,73.6 74.5,73.6 75.3,73.6 76.1,73.6 76.8,73.6 77.6,73.7 78.4,73.7 79.1,73.7 79.9,73.7 80.7,73.7 81.4,73.7 82.2,73.7 83.0,73.7 83.7,73.7 84.5,73.7 85.3,73.7 86.1,73.7 86.8,73.7 87.6,73.7 88.4,73.7 89.1,73.7 89.9,73.7 90.7,73.7 91.4,73.7 92.2,73.7 93.0,73.7 93.7,73.7 94.5,73.6 95.3,73.6 96.0,73.6 96.8,73.6 97.6,73.5 98.3,73.5 99.1,73.5 99.9,73.5 100.7,73.4 101.4,73.4 102.2,73.4 103.0,73.3 103.7,73.3 104.5,73.3 105.3,73.3 106.0,73.3 106.8,73.2 107.6,73.2 108.3,73.2 109.1,73.2 109.9,73.2 110.6,73.2 111.4,73.2 112.2,73.2 112.9,73.2 113.7,73.2 114.5,73.2 115.3,73.2 116.0,73.2 116.8,73.3 117.6,73.3 118.3,73.3 119.1,73.3 119.9,73.3 120.6,73.3 121.4,73.3 122.2,73.4 122.9,73.4 123.7,73.4 124.5,73.4 125.2,73.4 126.0,73.5 126.8,73.5 127.6,73.5 128.3,73.5 129.1,73.6 129.9,73.6 130.6,73.6 131.4,73.7 132.2,73.7 132.9,73.7 133.7,73.7 134.5,73.8 135.2,73.8 136.0,73.8 136.8,73.9 137.5,73.9 138.3,74.0 139.1,74.1 139.8,74.1 140.6,74.2 141.4,74.3 142.2,74.4 142.9,74.5 143.7,74.6 144.5,74.6 145.2,74.8 146.0,74.9 146.8,75.0 147.5,75.1 148.3,75.2 149.1,75.3 149.8,75.4 150.6,75.5 151.4,75.7 152.1,75.8 152.9,75.9 153.7,76.0 154.5,76.2 155.2,76.3 156.0,76.4 156.8,76.5 157.5,76.7 158.3,76.8 159.1,76.9 159.8,77.0 160.6,77.2 161.4,77.3 162.1,77.4 162.9,77.6 163.7,77.7 164.4,77.8 165.2,78.0 166.0,78.1 166.7,78.3 167.5,78.4 168.3,78.6 169.1,78.7 169.8,78.9 170.6,79.0 171.4,79.2 172.1,79.4 172.9,79.5 173.7,79.7 174.4,79.9 175.2,80.0 176.0,80.2 176.7,80.4 177.5,80.5 178.3,80.7 179.0,80.9 179.8,81.1 180.6,81.2 181.4,81.4 182.1,81.6 182.9,81.8 183.7,82.0 184.4,82.1 185.2,82.3 186.0,82.5 186.7,82.7 187.5,82.9 188.3,83.1 189.0,83.3 189.8,83.4 190.6,83.6 191.3,83.8 192.1,84.0 192.9,84.2 193.6,84.4 194.4,84.6 195.2,84.8 196.0,85.0 196.7,85.3 197.5,85.5 198.3,85.7 199.0,85.9 199.8,86.1 200.6,86.3 201.3,86.5 202.1,86.7 202.9,87.0 203.6,87.2 204.4,87.4 205.2,87.6 205.9,87.8 206.7,88.1 207.5,88.3 208.2,88.5 209.0,88.7 209.8,88.9 210.6,89.2 211.3,89.4 212.1,89.6 212.9,89.9 213.6,90.1 214.4,90.3 215.2,90.6 215.9,90.8 216.7,91.1 217.5,91.3 218.2,91.5 219.0,91.8 219.8,92.1 220.5,92.3 221.3,92.6 222.1,92.8 222.9,93.1 223.6,93.3 224.4,93.6 225.2,93.9 225.9,94.1 226.7,94.4 227.5,94.6 228.2,94.9 229.0,95.2 229.8,95.4 230.5,95.7 231.3,96.0 232.1,96.2 232.8,96.5 233.6,96.8 234.4,97.0 235.1,97.3 235.9,97.6 236.7,97.8 237.5,98.1 238.2,98.3 239.0,98.6 239.8,98.9 240.5,99.1 241.3,99.4 242.1,99.6 242.8,99.9 243.6,100.1 244.4,100.4 245.1,100.6 245.9,100.9 246.7,101.1 247.4,101.3 248.2,101.6 249.0,101.8 249.8,102.0 250.5,102.3 251.3,102.5 252.1,102.7 252.8,102.9 253.6,103.2 254.4,103.4 255.1,103.6 255.9,103.8 256.7,104.1 257.4,104.3 258.2,104.5 259.0,104.7 259.7,104.9 260.5,105.2 261.3,105.4 262.0,105.6 262.8,105.8 263.6,106.0 264.4,106.2 265.1,106.4 265.9,106.7 266.7,106.9 267.4,107.1 268.2,107.3 269.0,107.5 269.7,107.7 270.5,107.9 271.3,108.1 272.0,108.4 272.8,108.6 273.6,108.8 274.3,109.0 275.1,109.2 275.9,109.4 276.7,109.6 277.4,109.8 278.2,110.0 279.0,110.2 279.7,110.4 280.5,110.6 281.3,110.8 282.0,111.0 282.8,111.2 283.6,111.4 284.3,111.6 285.1,111.8 285.9,112.0 286.6,112.2 287.4,112.4 288.2,112.6 288.9,112.8 289.7,113.0 290.5,113.2 291.3,113.4 292.0,113.6 292.8,113.8 293.6,114.0 294.3,114.2 295.1,114.4 295.9,114.6 296.6,114.8 297.4,115.0 298.2,115.2 298.9,115.4 299.7,115.6 300.5,115.8 301.2,116.0 302.0,116.2 302.8,116.4 303.5,116.6 304.3,116.8 305.1,117.0 305.9,117.2 306.6,117.4 307.4,117.6 308.2,117.7 308.9,117.9 309.7,118.1 310.5,118.3 311.2,118.5 312.0,118.7 312.8,118.9 313.5,119.1 314.3,119.3 315.1,119.5 315.8,119.7 316.6,119.9 317.4,120.0 318.2,120.2 318.9,120.4 319.7,120.6 320.5,120.8 321.2,121.0 322.0,121.2 322.8,121.3 323.5,121.5 324.3,121.7 325.1,121.9 325.8,122.1 326.6,122.2 327.4,122.4 328.1,122.6 328.9,122.8 329.7,122.9 330.4,123.1 331.2,123.3 332.0,123.4 332.8,123.6 333.5,123.8 334.3,123.9 335.1,124.1 335.8,124.3 336.6,124.4 337.4,124.6 338.1,124.8 338.9,124.9 339.7,125.1 340.4,125.2 341.2,125.4 342.0,125.6 342.7,125.7 343.5,125.9 344.3,126.0 345.1,126.2 345.8,126.4 346.6,126.5 347.4,126.7 348.1,126.8 348.9,127.0 349.7,127.1 350.4,127.3 351.2,127.4 352.0,127.6 352.7,127.7 353.5,127.9 354.3,128.0 355.0,128.2 355.8,128.3 356.6,128.5 357.3,128.6 358.1,128.7 358.9,128.9 359.7,129.0 360.4,129.2 361.2,129.3 362.0,129.4 362.7,129.6 363.5,129.7 364.3,129.9 365.0,130.0 365.8,130.1 366.6,130.3 367.3,130.4 368.1,130.5 368.9,130.7 369.6,130.8 370.4,130.9 371.2,131.1 371.9,131.2" fill="none" stroke="#ff0000" stroke-width="0.6"/>

<polyline points="65.3,67.2 66.1,67.2 66.8,67.2 67.6,67.2 68.4,67.2 69.1,67.2 69.9,67.2 70.7,67.2 71.4,67.2 72.2,67.1 73.0,67.1 73.8,67.1 74.5,67.1 75.3,67.1 76.1,67.1 76.8,67.0 77.6,67.0 78.4,67.0 79.1,67.0 79.9,67.0 80.7,66.9 81.4,66.9 82.2,66.9 83.0,66.9 83.7,66.8 84.5,66.8 85.3,66.8 86.1,66.8 86.8,66.7 87.6,66.7 88.4,66.7 89.1,66.6 89.9,66.6 90.7,66.6 91.4,66.5 92.2,66.5 93.0,66.4 93.7,66.3 94.5,66.2 95.3,66.2 96.0,66.1 96.8,66.0 97.6,65.9 98.3,65.9 99.1,65.8 99.9,65.8 100.7,65.8 101.4,65.8 102.2,65.7 103.0,65.7 103.7,65.7 104.5,65.7 105.3,65.7 106.0,65.6 106.8,65.6 107.6,65.6 108.3,65.6 109.1,65.6 109.9,65.6 110.6,65.6 111.4,65.6 112.2,65.6 112.9,65.6 113.7,65.6 114.5,65.6 115.3,65.6 116.0,65.6 116.8,65.7 117.6,65.7 118.3,65.7 119.1,65.7 119.9,65.7 120.6,65.7 121.4,65.8 122.2,65.8 122.9,65.8 123.7,65.8 124.5,65.9 125.2,65.9 126.0,65.9 126.8,65.9 127.6,66.0 128.3,66.0 129.1,66.0 129.9,66.1 130.6,66.1 131.4,66.1 132.2,66.2 132.9,66.2 133.7,66.2 134.5,66.3 135.2,66.3 136.0,66.4 136.8,66.4 137.5,66.5 138.3,66.5 139.1,66.6 139.8,66.7 140.6,66.8 141.4,66.9 142.2,67.0 142.9,67.1 143.7,67.2 144.5,67.3 145.2,67.4 146.0,67.5 146.8,67.7 147.5,67.8 148.3,67.9 149.1,68.1 149.8,68.2 150.6,68.4 151.4,68.5 152.1,68.7 152.9,68.8 153.7,69.0 154.5,69.1 155.2,69.3 156.0,69.4 156.8,69.6 157.5,69.7 158.3,69.9 159.1,70.0 159.8,70.2 160.6,70.3 161.4,70.5 162.1,70.6 162.9,70.8 163.7,71.0 164.4,71.1 165.2,71.3 166.0,71.5 166.7,71.7 167.5,71.8 168.3,72.0 169.1,72.2 169.8,72.4 170.6,72.6 171.4,72.8 172.1,73.0 172.9,73.2 173.7,73.4 174.4,73.6 175.2,73.8 176.0,74.0 176.7,74.3 177.5,74.5 178.3,74.7 179.0,74.9 179.8,75.1 180.6,75.4 181.4,75.6 182.1,75.8 182.9,76.1 183.7,76.3 184.4,76.5 185.2,76.8 186.0,77.0 186.7,77.3 187.5,77.6 188.3,77.8 189.0,78.1 189.8,78.4 190.6,78.7 191.3,78.9 192.1,79.2 192.9,79.5 193.6,79.8 194.4,80.1 195.2,80.4 196.0,80.7 196.7,81.0 197.5,81.3 198.3,81.6 199.0,82.0 199.8,82.3 200.6,82.6 201.3,82.9 202.1,83.2 202.9,83.5 203.6,83.9 204.4,84.2 205.2,84.5 205.9,84.8 206.7,85.2 207.5,85.5 208.2,85.8 209.0,86.2 209.8,86.5 210.6,86.8 211.3,87.1 212.1,87.5 212.9,87.8 213.6,88.1 214.4,88.5 215.2,88.8 215.9,89.2 216.7,89.5 217.5,89.9 218.2,90.2 219.0,90.6 219.8,90.9 220.5,91.3 221.3,91.7 222.1,92.0 222.9,92.4 223.6,92.7 224.4,93.1 225.2,93.5 225.9,93.8 226.7,94.2 227.5,94.6 228.2,94.9 229.0,95.3 229.8,95.7 230.5,96.1 231.3,96.4 232.1,96.8 232.8,97.2 233.6,97.5 234.4,97.9 235.1,98.3 235.9,98.6 236.7,99.0 237.5,99.4 238.2,99.8 239.0,100.1 239.8,100.5 240.5,100.9 241.3,101.3 242.1,101.7 242.8,102.1 243.6,102.5 244.4,102.9 245.1,103.2 245.9,103.6 246.7,104.1 247.4,104.5 248.2,104.9 249.0,105.3 249.8,105.7 250.5,106.1 251.3,106.6 252.1,107.0 252.8,107.4 253.6,107.9 254.4,108.3 255.1,108.7 255.9,109.2 256.7,109.6 257.4,110.1 258.2,110.5 259.0,111.0 259.7,111.4 260.5,111.9 261.3,112.3 262.0,112.8 262.8,113.3 263.6,113.7 264.4,114.2 265.1,114.7 265.9,115.1 266.7,115.6 267.4,116.1 268.2,116.6 269.0,117.1 269.7,117.5 270.5,118.0 271.3,118.5 272.0,119.0 272.8,119.5 273.6,119.9 274.3,120.4 275.1,120.9 275.9,121.4 276.7,121.9 277.4,122.4 278.2,122.9 279.0,123.4 279.7,123.9 280.5,124.4 281.3,124.9 282.0,125.4 282.8,125.9 283.6,126.3 284.3,126.8 285.1,127.3 285.9,127.8 286.6,128.3 287.4,128.8 288.2,129.3 288.9,129.8 289.7,130.3 290.5,130.8 291.3,131.3 292.0,131.8 292.8,132.3 293.6,132.8 294.3,133.3 295.1,133.8 295.9,134.3 296.6,134.8 297.4,135.3 298.2,135.8 298.9,136.2 299.7,136.7 300.5,137.2 301.2,137.7 302.0,138.2 302.8,138.8 303.5,139.3 304.3,139.8 305.1,140.3 305.9,140.8 306.6,141.3 307.4,141.8 308.2,142.3 308.9,142.8 309.7,143.4 310.5,143.9 311.2,144.4 312.0,144.9 312.8,145.4 313.5,146.0 314.3,146.5 315.1,147.0 315.8,147.5 316.6,148.0 317.4,148.5 318.2,149.1 318.9,149.6 319.7,150.1 320.5,150.6 321.2,151.1 322.0,151.6 322.8,152.1 323.5,152.7 324.3,153.2 325.1,153.7 325.8,154.2 326.6,154.7 327.4,155.2 328.1,155.7 328.9,156.2 329.7,156.7 330.4,157.2 331.2,157.7 332.0,158.2 332.8,158.7 333.5,159.2 334.3,159.6 335.1,160.1 335.8,160.6 336.6,161.1 337.4,161.5 338.1,162.0 338.9,162.5 339.7,162.9 340.4,163.4 341.2,163.8 342.0,164.3 342.7,164.7 343.5,165.2 344.3,165.6 345.1,166.1 345.8,166.5 346.6,167.0 347.4,167.5 348.1,168.0 348.9,168.5 349.7,169.0 350.4,169.6 351.2,170.1 352.0,170.6 352.7,171.2 353.5,171.6 354.3,172.1 355.0,172.5 355.8,172.8 356.6,173.1 357.3,173.3 358.1,173.4 358.9,173.5 359.7,173.7 360.4,173.8 361.2,174.1 362.0,174.5 362.7,175.0 363.5,175.5 364.3,176.1 365.0,176.7 365.8,177.2 366.6,177.7 367.3,178.2 368.1,178.7 368.9,179.2 369.6,179.7 370.4,180.2 371.2,180.7 371.9,181.2" fill="none" stroke="#0000ff" stroke-width="2.45"/>
<polyline points="65.3,66.5 66.1,66.4 66.8,66.4 67.6,66.3 68.4,66.2 69.1,66.2 69.9,66.1 70.7,66.0 71.4,66.0 72.2,65.9 73.0,65.8 73.8,65.7 74.5,65.6 75.3,65.5 76.1,65.4 76.8,65.4 77.6,65.3 78.4,65.2 79.1,65.1 79.9,65.1 80.7,65.0 81.4,65.0 82.2,64.9 83.0,64.9 83.7,64.9 84.5,64.8 85.3,64.8 86.1,64.8 86.8,64.8 87.6,64.8 88.4,64.8 89.1,64.8 89.9,64.8 90.7,64.8 91.4,64.8 92.2,64.8 93.0,64.8 93.7,64.8 94.5,64.8 95.3,64.8 96.0,64.8 96.8,64.8 97.6,64.8 98.3,64.8 99.1,64.8 99.9,64.8 100.7,64.8 101.4,64.8 102.2,64.8 103.0,64.7 103.7,64.7 104.5,64.7 105.3,64.6 106.0,64.6 106.8,64.6 107.6,64.5 108.3,64.5 109.1,64.5 109.9,64.5 110.6,64.5 111.4,64.5 112.2,64.5 112.9,64.5 113.7,64.5 114.5,64.5 115.3,64.5 116.0,64.6 116.8,64.6 117.6,64.6 118.3,64.6 119.1,64.6 119.9,64.7 120.6,64.7 121.4,64.7 122.2,64.7 122.9,64.8 123.7,64.8 124.5,64.8 125.2,64.8 126.0,64.9 126.8,64.9 127.6,64.9 128.3,65.0 129.1,65.0 129.9,65.0 130.6,65.1 131.4,65.1 132.2,65.2 132.9,65.2 133.7,65.2 134.5,65.3 135.2,65.3 136.0,65.4 136.8,65.4 137.5,65.5 138.3,65.5 139.1,65.6 139.8,65.7 140.6,65.7 141.4,65.8 142.2,65.9 142.9,66.0 143.7,66.1 144.5,66.2 145.2,66.3 146.0,66.4 146.8,66.5 147.5,66.6 148.3,66.7 149.1,66.8 149.8,66.9 150.6,67.1 151.4,67.2 152.1,67.3 152.9,67.4 153.7,67.5 154.5,67.7 155.2,67.8 156.0,67.9 156.8,68.1 157.5,68.2 158.3,68.3 159.1,68.4 159.8,68.6 160.6,68.7 161.4,68.8 162.1,69.0 162.9,69.1 163.7,69.3 164.4,69.5 165.2,69.6 166.0,69.8 166.7,70.0 167.5,70.1 168.3,70.3 169.1,70.5 169.8,70.7 170.6,70.9 171.4,71.1 172.1,71.2 172.9,71.4 173.7,71.6 174.4,71.8 175.2,72.0 176.0,72.1 176.7,72.3 177.5,72.5 178.3,72.7 179.0,72.8 179.8,73.0 180.6,73.1 181.4,73.3 182.1,73.4 182.9,73.6 183.7,73.8 184.4,73.9 185.2,74.1 186.0,74.3 186.7,74.5 187.5,74.7 188.3,74.9 189.0,75.2 189.8,75.4 190.6,75.6 191.3,75.8 192.1,76.1 192.9,76.3 193.6,76.5 194.4,76.7 195.2,77.0 196.0,77.2 196.7,77.4 197.5,77.6 198.3,77.9 199.0,78.1 199.8,78.3 200.6,78.5 201.3,78.8 202.1,79.0 202.9,79.2 203.6,79.5 204.4,79.7 205.2,79.9 205.9,80.2 206.7,80.4 207.5,80.6 208.2,80.9 209.0,81.1 209.8,81.3 210.6,81.6 211.3,81.8 212.1,82.0 212.9,82.3 213.6,82.5 214.4,82.7 215.2,83.0 215.9,83.2 216.7,83.4 217.5,83.7 218.2,83.9 219.0,84.1 219.8,84.4 220.5,84.6 221.3,84.8 222.1,85.1 222.9,85.3 223.6,85.5 224.4,85.8 225.2,86.0 225.9,86.2 226.7,86.5 227.5,86.7 228.2,86.9 229.0,87.2 229.8,87.4 230.5,87.7 231.3,87.9 232.1,88.2 232.8,88.4 233.6,88.7 234.4,88.9 235.1,89.1 235.9,89.4 236.7,89.7 237.5,89.9 238.2,90.2 239.0,90.4 239.8,90.7 240.5,90.9 241.3,91.2 242.1,91.4 242.8,91.7 243.6,91.9 244.4,92.2 245.1,92.4 245.9,92.6 246.7,92.9 247.4,93.1 248.2,93.4 249.0,93.6 249.8,93.8 250.5,94.1 251.3,94.3 252.1,94.5 252.8,94.8 253.6,95.0 254.4,95.2 255.1,95.4 255.9,95.7 256.7,95.9 257.4,96.1 258.2,96.3 259.0,96.6 259.7,96.8 260.5,97.0 261.3,97.2 262.0,97.5 262.8,97.7 263.6,97.9 264.4,98.1 265.1,98.4 265.9,98.6 266.7,98.8 267.4,99.0 268.2,99.2 269.0,99.5 269.7,99.7 270.5,99.9 271.3,100.1 272.0,100.3 272.8,100.5 273.6,100.8 274.3,101.0 275.1,101.2 275.9,101.4 276.7,101.6 277.4,101.8 278.2,102.0 279.0,102.2 279.7,102.5 280.5,102.7 281.3,102.9 282.0,103.1 282.8,103.3 283.6,103.5 284.3,103.7 285.1,103.9 285.9,104.1 286.6,104.3 287.4,104.6 288.2,104.8 288.9,105.0 289.7,105.2 290.5,105.4 291.3,105.6 292.0,105.8 292.8,106.0 293.6,106.2 294.3,106.4 295.1,106.6 295.9,106.8 296.6,107.0 297.4,107.2 298.2,107.4 298.9,107.6 299.7,107.8 300.5,108.0 301.2,108.2 302.0,108.4 302.8,108.6 303.5,108.8 304.3,109.0 305.1,109.2 305.9,109.5 306.6,109.7 307.4,109.9 308.2,110.1 308.9,110.3 309.7,110.5 310.5,110.7 311.2,110.9 312.0,111.1 312.8,111.3 313.5,111.5 314.3,111.7 315.1,111.9 315.8,112.1 316.6,112.3 317.4,112.5 318.2,112.7 318.9,112.9 319.7,113.1 320.5,113.2 321.2,113.4 322.0,113.6 322.8,113.8 323.5,114.0 324.3,114.2 325.1,114.4 325.8,114.5 326.6,114.7 327.4,114.9 328.1,115.1 328.9,115.2 329.7,115.4 330.4,115.6 331.2,115.7 332.0,115.9 332.8,116.0 333.5,116.2 334.3,116.4 335.1,116.5 335.8,116.7 336.6,116.8 337.4,117.0 338.1,117.1 338.9,117.3 339.7,117.4 340.4,117.5 341.2,117.7 342.0,117.8 342.7,118.0 343.5,118.1 344.3,118.3 345.1,118.4 345.8,118.5 346.6,118.7 347.4,118.8 348.1,118.9 348.9,119.1 349.7,119.2 350.4,119.3 351.2,119.5 352.0,119.6 352.7,119.7 353.5,119.9 354.3,120.0 355.0,120.1 355.8,120.2 356.6,120.3 357.3,120.5 358.1,120.6 358.9,120.7 359.7,120.8 360.4,120.9 361.2,121.0 362.0,121.2 362.7,121.3 363.5,121.4 364.3,121.5 365.0,121.6 365.8,121.7 366.6,121.8 367.3,121.9 368.1,122.0 368.9,122.1 369.6,122.2 370.4,122.3 371.2,122.4 371.9,122.5" fill="none" stroke="#ff0000" stroke-width="2.15" stroke-dasharray="2.0 2.93"/>
<polyline points="65.3,64.4 66.1,64.5 66.8,64.5 67.6,64.6 68.4,64.7 69.1,64.7 69.9,64.8 70.7,64.9 71.4,64.9 72.2,65.0 73.0,65.0 73.8,65.1 74.5,65.2 75.3,65.2 76.1,65.3 76.8,65.3 77.6,65.4 78.4,65.5 79.1,65.5 79.9,65.6 80.7,65.6 81.4,65.7 82.2,65.8 83.0,65.8 83.7,65.9 84.5,65.9 85.3,66.0 86.1,66.0 86.8,66.0 87.6,66.1 88.4,66.1 89.1,66.2 89.9,66.2 90.7,66.3 91.4,66.3 92.2,66.3 93.0,66.4 93.7,66.4 94.5,66.5 95.3,66.5 96.0,66.6 96.8,66.6 97.6,66.6 98.3,66.7 99.1,66.7 99.9,66.8 100.7,66.8 101.4,66.9 102.2,67.0 103.0,67.0 103.7,67.1 104.5,67.2 105.3,67.2 106.0,67.3 106.8,67.4 107.6,67.4 108.3,67.5 109.1,67.5 109.9,67.6 110.6,67.6 111.4,67.7 112.2,67.7 112.9,67.8 113.7,67.8 114.5,67.9 115.3,67.9 116.0,67.9 116.8,68.0 117.6,68.0 118.3,68.1 119.1,68.1 119.9,68.1 120.6,68.2 121.4,68.2 122.2,68.2 122.9,68.3 123.7,68.3 124.5,68.4 125.2,68.4 126.0,68.4 126.8,68.5 127.6,68.5 128.3,68.5 129.1,68.6 129.9,68.6 130.6,68.6 131.4,68.7 132.2,68.7 132.9,68.7 133.7,68.8 134.5,68.8 135.2,68.9 136.0,68.9 136.8,68.9 137.5,69.0 138.3,69.0 139.1,69.1 139.8,69.1 140.6,69.1 141.4,69.2 142.2,69.2 142.9,69.3 143.7,69.3 144.5,69.3 145.2,69.4 146.0,69.4 146.8,69.5 147.5,69.5 148.3,69.5 149.1,69.6 149.8,69.6 150.6,69.7 151.4,69.7 152.1,69.7 152.9,69.8 153.7,69.8 154.5,69.9 155.2,69.9 156.0,69.9 156.8,70.0 157.5,70.0 158.3,70.1 159.1,70.1 159.8,70.1 160.6,70.2 161.4,70.2 162.1,70.3 162.9,70.3 163.7,70.4 164.4,70.4 165.2,70.4 166.0,70.5 166.7,70.5 167.5,70.6 168.3,70.6 169.1,70.7 169.8,70.7 170.6,70.7 171.4,70.8 172.1,70.8 172.9,70.9 173.7,70.9 174.4,71.0 175.2,71.0 176.0,71.0 176.7,71.1 177.5,71.1 178.3,71.2 179.0,71.2 179.8,71.3 180.6,71.3 181.4,71.4 182.1,71.4 182.9,71.4 183.7,71.5 184.4,71.5 185.2,71.6 186.0,71.6 186.7,71.7 187.5,71.7 188.3,71.8 189.0,71.8 189.8,71.8 190.6,71.9 191.3,71.9 192.1,72.0 192.9,72.0 193.6,72.1 194.4,72.1 195.2,72.2 196.0,72.2 196.7,72.2 197.5,72.3 198.3,72.3 199.0,72.4 199.8,72.4 200.6,72.5 201.3,72.5 202.1,72.6 202.9,72.6 203.6,72.7 204.4,72.7 205.2,72.8 205.9,72.8 206.7,72.9 207.5,72.9 208.2,73.0 209.0,73.0 209.8,73.1 210.6,73.1 211.3,73.2 212.1,73.2 212.9,73.3 213.6,73.3 214.4,73.4 215.2,73.4 215.9,73.5 216.7,73.6 217.5,73.6 218.2,73.7 219.0,73.7 219.8,73.8 220.5,73.9 221.3,73.9 222.1,74.0 222.9,74.0 223.6,74.1 224.4,74.2 225.2,74.2 225.9,74.3 226.7,74.3 227.5,74.4 228.2,74.5 229.0,74.5 229.8,74.6 230.5,74.7 231.3,74.7 232.1,74.8 232.8,74.9 233.6,74.9 234.4,75.0 235.1,75.0 235.9,75.1 236.7,75.2 237.5,75.2 238.2,75.3 239.0,75.4 239.8,75.4 240.5,75.5 241.3,75.5 242.1,75.6 242.8,75.7 243.6,75.7 244.4,75.8 245.1,75.8 245.9,75.9 246.7,76.0 247.4,76.0 248.2,76.1 249.0,76.1 249.8,76.2 250.5,76.2 251.3,76.3 252.1,76.3 252.8,76.4 253.6,76.5 254.4,76.5 255.1,76.6 255.9,76.6 256.7,76.7 257.4,76.7 258.2,76.8 259.0,76.9 259.7,76.9 260.5,77.0 261.3,77.0 262.0,77.1 262.8,77.2 263.6,77.2 264.4,77.3 265.1,77.3 265.9,77.4 266.7,77.4 267.4,77.5 268.2,77.6 269.0,77.6 269.7,77.7 270.5,77.7 271.3,77.8 272.0,77.8 272.8,77.9 273.6,77.9 274.3,78.0 275.1,78.0 275.9,78.1 276.7,78.2 277.4,78.2 278.2,78.3 279.0,78.3 279.7,78.4 280.5,78.4 281.3,78.5 282.0,78.5 282.8,78.6 283.6,78.6 284.3,78.7 285.1,78.7 285.9,78.8 286.6,78.8 287.4,78.8 288.2,78.9 288.9,78.9 289.7,79.0 290.5,79.0 291.3,79.1 292.0,79.1 292.8,79.1 293.6,79.2 294.3,79.2 295.1,79.3 295.9,79.3 296.6,79.3 297.4,79.4 298.2,79.4 298.9,79.4 299.7,79.5 300.5,79.5 301.2,79.5 302.0,79.6 302.8,79.6 303.5,79.6 304.3,79.7 305.1,79.7 305.9,79.7 306.6,79.7 307.4,79.8 308.2,79.8 308.9,79.8 309.7,79.8 310.5,79.9 311.2,79.9 312.0,79.9 312.8,79.9 313.5,80.0 314.3,80.0 315.1,80.0 315.8,80.0 316.6,80.1 317.4,80.1 318.2,80.1 318.9,80.1 319.7,80.2 320.5,80.2 321.2,80.2 322.0,80.2 322.8,80.3 323.5,80.3 324.3,80.3 325.1,80.3 325.8,80.4 326.6,80.4 327.4,80.4 328.1,80.4 328.9,80.5 329.7,80.5 330.4,80.5 331.2,80.5 332.0,80.6 332.8,80.6 333.5,80.6 334.3,80.7 335.1,80.7 335.8,80.7 336.6,80.8 337.4,80.8 338.1,80.8 338.9,80.9 339.7,80.9 340.4,80.9 341.2,81.0 342.0,81.0 342.7,81.0 343.5,81.1 344.3,81.1 345.1,81.2 345.8,81.2 346.6,81.2 347.4,81.3 348.1,81.3 348.9,81.3 349.7,81.4 350.4,81.4 351.2,81.5 352.0,81.5 352.7,81.5 353.5,81.6 354.3,81.6 355.0,81.7 355.8,81.7 356.6,81.7 357.3,81.8 358.1,81.8 358.9,81.9 359.7,81.9 360.4,81.9 361.2,82.0 362.0,82.0 362.7,82.1 363.5,82.1 364.3,82.2 365.0,82.2 365.8,82.2 366.6,82.3 367.3,82.3 368.1,82.4 368.9,82.4 369.6,82.5 370.4,82.5 371.2,82.6 371.9,82.6" fill="none" stroke="#008000" stroke-width="2.45" stroke-dasharray="4.8 2.9"/>
</g>
<rect x="65.3" y="6.8" width="306.65" height="262.65" fill="none" stroke="#303030" stroke-width="0.9"/>
<rect x="78.0" y="192.5" width="173.8" height="64.9" fill="#fff" stroke="#282828" stroke-width="0.9"/>
<path d="M83.7,205.5 H110.1" stroke="#0000ff" stroke-width="2.45"/>
<path d="M83.7,225.0 H110.1" stroke="#ff0000" stroke-width="2.15" stroke-dasharray="2.0 2.93"/>
<path d="M83.7,244.8 H110.1" stroke="#008000" stroke-width="2.45" stroke-dasharray="4.8 2.9"/>
<g font-family="Liberation Serif, serif" fill="#000">
<text transform="translate(119.84,209.40) scale(1.062,1.0)" font-size="14.4">Proposed</text>
<text transform="translate(182.30,209.85) scale(0.926,1.07)" font-size="14.4">(</text>
<text transform="translate(188.36,209.40) scale(1.285,1.0)" font-size="14.4" font-style="italic">λ</text>
<text transform="translate(200.16,210.30) scale(1.583,1.0)" font-size="14.4">=</text>
<text transform="translate(217.15,209.50) scale(1.200,1.0)" font-size="14.4">0.0</text>
<text transform="translate(238.45,209.85) scale(0.755,1.07)" font-size="14.4">)</text>
<text transform="translate(119.84,228.90) scale(1.062,1.0)" font-size="14.4">Proposed</text>
<text transform="translate(182.30,229.35) scale(0.926,1.07)" font-size="14.4">(</text>
<text transform="translate(188.36,228.90) scale(1.285,1.0)" font-size="14.4" font-style="italic">λ</text>
<text transform="translate(200.16,229.80) scale(1.583,1.0)" font-size="14.4">=</text>
<text transform="translate(217.14,229.00) scale(1.218,1.0)" font-size="14.4">0.2</text>
<text transform="translate(238.45,229.35) scale(0.755,1.07)" font-size="14.4">)</text>
<text transform="translate(119.85,248.50) scale(1.033,1.0)" font-size="14.4">PAQT</text>
<text transform="translate(184.40,248.95) scale(0.926,1.07)" font-size="14.4">(</text>
<text transform="translate(190.46,248.50) scale(1.285,1.0)" font-size="14.4" font-style="italic">λ</text>
<text transform="translate(202.26,249.40) scale(1.583,1.0)" font-size="14.4">=</text>
<text transform="translate(219.25,248.60) scale(1.200,1.0)" font-size="14.4">0.0</text>
<text transform="translate(240.55,248.95) scale(0.755,1.07)" font-size="14.4">)</text>
<text transform="translate(54.10,289.00) scale(0.965,1.0)" font-size="15.4">10</text>
<text transform="translate(69.68,283.00) scale(1.054,1.0)" font-size="10.2">4</text>
<text transform="translate(130.76,289.00) scale(0.965,1.0)" font-size="15.4">10</text>
<text transform="translate(145.85,283.00) scale(1.218,1.0)" font-size="10.2">5</text>
<text transform="translate(207.42,289.00) scale(0.965,1.0)" font-size="15.4">10</text>
<text transform="translate(222.73,283.00) scale(1.147,1.0)" font-size="10.2">6</text>
<text transform="translate(284.09,289.00) scale(0.965,1.0)" font-size="15.4">10</text>
<text transform="translate(299.09,283.00) scale(1.210,1.0)" font-size="10.2">7</text>
<text transform="translate(360.75,289.00) scale(0.965,1.0)" font-size="15.4">10</text>
<text transform="translate(376.11,283.00) scale(1.153,1.0)" font-size="10.2">8</text>
<text transform="translate(37.00,13.30) scale(0.965,1.0)" font-size="15.4">10</text>
<text transform="translate(52.29,7.90) scale(1.043,1.0)" font-size="10.6">0</text>
<text transform="translate(26.77,78.96) scale(0.987,1.0)" font-size="15.4">10</text>
<rect x="43.6" y="70.51" width="7.5" height="0.7" fill="#111"/>
<text transform="translate(52.06,72.96) scale(1.057,1.0)" font-size="10.2">1</text>
<text transform="translate(26.77,144.62) scale(0.987,1.0)" font-size="15.4">10</text>
<rect x="43.6" y="136.18" width="7.5" height="0.7" fill="#111"/>
<text transform="translate(51.90,138.62) scale(1.299,1.0)" font-size="10.2">2</text>
<text transform="translate(26.77,210.29) scale(0.987,1.0)" font-size="15.4">10</text>
<rect x="43.6" y="201.84" width="7.5" height="0.7" fill="#111"/>
<text transform="translate(51.89,204.29) scale(1.260,1.0)" font-size="10.2">3</text>
<text transform="translate(26.77,275.95) scale(0.987,1.0)" font-size="15.4">10</text>
<rect x="43.6" y="267.50" width="7.5" height="0.7" fill="#111"/>
<text transform="translate(52.27,269.95) scale(1.117,1.0)" font-size="10.2">4</text>
<text transform="translate(205.82,311.00) scale(1.102,1.0)" font-size="15.0" font-style="italic">N</text>
<text transform="translate(216.87,313.30) scale(1.294,1.0)" font-size="10.4">tot</text>
<g transform="translate(10.5,0) rotate(-90)"><text transform="translate(-192.76,0.00) scale(1.072,1.0)" font-size="14.4">Median Infidelity</text></g>
</g>
</svg>
</body></html>
